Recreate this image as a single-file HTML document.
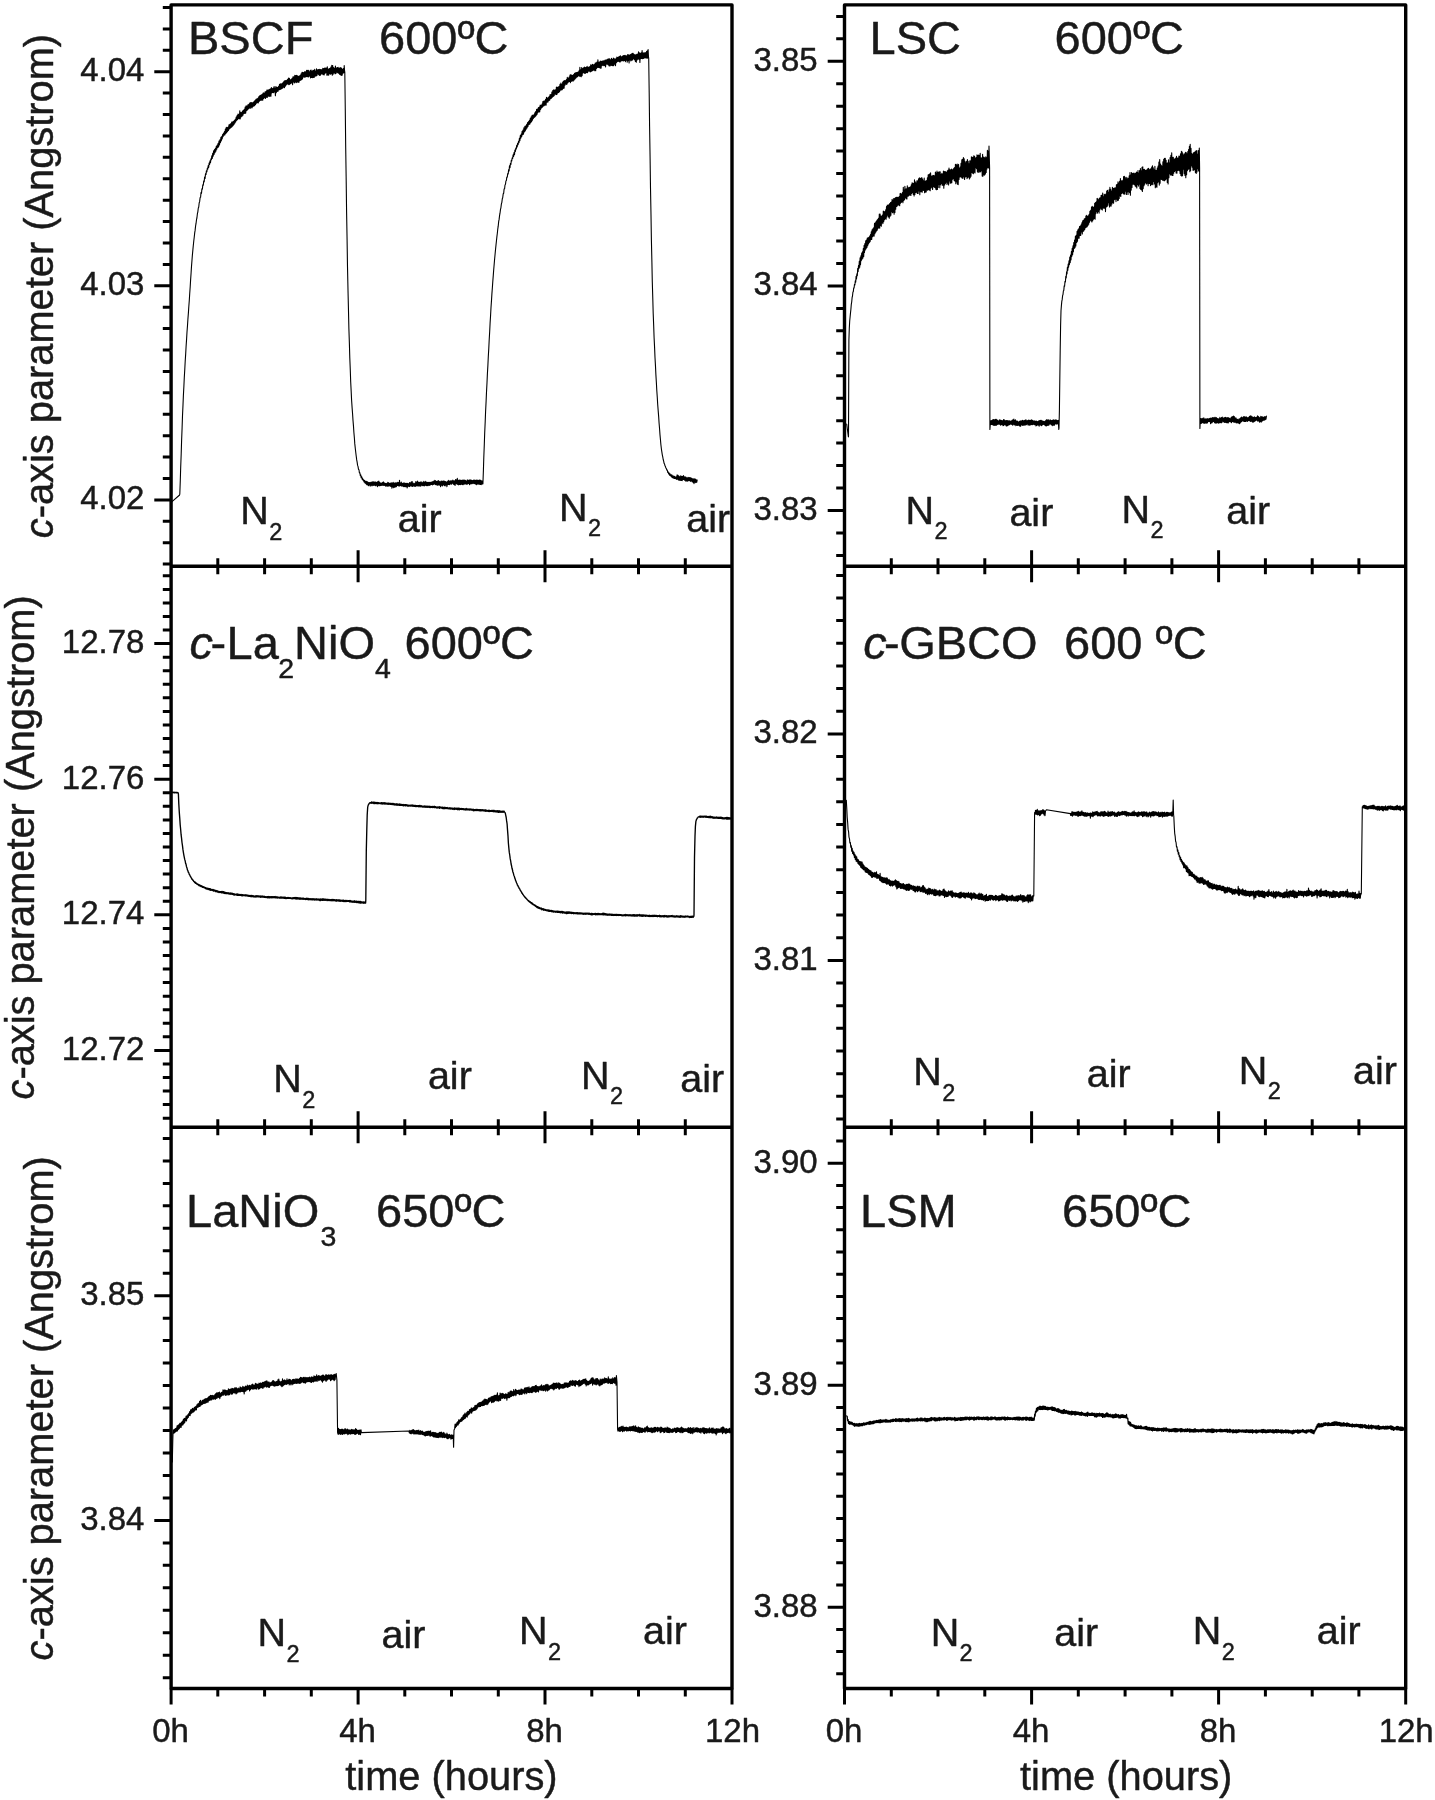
<!DOCTYPE html>
<html lang="en"><head><meta charset="utf-8"><title>c-axis parameter vs time</title>
<style>html,body{margin:0;padding:0;background:#fff}svg{display:block;filter:blur(0.7px)}text{white-space:pre}</style>
</head><body><svg width="1435" height="1800" viewBox="0 0 1435 1800"><rect x="0" y="0" width="1435" height="1800" fill="#fff"/>
<rect x="171.1" y="4.9" width="560.9" height="1683.6" fill="none" stroke="#000" stroke-width="3.4" stroke-linejoin="round"/>
<line x1="171.1" y1="566.3" x2="732.0" y2="566.3" stroke="#000" stroke-width="3.4"/>
<line x1="171.1" y1="1127.2" x2="732.0" y2="1127.2" stroke="#000" stroke-width="3.4"/>
<rect x="844.5" y="4.9" width="561.2" height="1683.6" fill="none" stroke="#000" stroke-width="3.4" stroke-linejoin="round"/>
<line x1="844.5" y1="566.3" x2="1405.7" y2="566.3" stroke="#000" stroke-width="3.4"/>
<line x1="844.5" y1="1127.2" x2="1405.7" y2="1127.2" stroke="#000" stroke-width="3.4"/>
<path d="M171.1,1688.5V1704.5M217.8,558.3V574.3M217.8,1119.2V1135.2M217.8,1688.5V1696.5M264.6,558.3V574.3M264.6,1119.2V1135.2M264.6,1688.5V1696.5M311.3,558.3V574.3M311.3,1119.2V1135.2M311.3,1688.5V1696.5M358.1,550.3V582.3M358.1,1111.2V1143.2M358.1,1688.5V1704.5M404.8,558.3V574.3M404.8,1119.2V1135.2M404.8,1688.5V1696.5M451.5,558.3V574.3M451.5,1119.2V1135.2M451.5,1688.5V1696.5M498.3,558.3V574.3M498.3,1119.2V1135.2M498.3,1688.5V1696.5M545.0,550.3V582.3M545.0,1111.2V1143.2M545.0,1688.5V1704.5M591.8,558.3V574.3M591.8,1119.2V1135.2M591.8,1688.5V1696.5M638.5,558.3V574.3M638.5,1119.2V1135.2M638.5,1688.5V1696.5M685.3,558.3V574.3M685.3,1119.2V1135.2M685.3,1688.5V1696.5M732.0,1688.5V1704.5M844.5,1688.5V1704.5M891.3,558.3V574.3M891.3,1119.2V1135.2M891.3,1688.5V1696.5M938.0,558.3V574.3M938.0,1119.2V1135.2M938.0,1688.5V1696.5M984.8,558.3V574.3M984.8,1119.2V1135.2M984.8,1688.5V1696.5M1031.6,550.3V582.3M1031.6,1111.2V1143.2M1031.6,1688.5V1704.5M1078.3,558.3V574.3M1078.3,1119.2V1135.2M1078.3,1688.5V1696.5M1125.1,558.3V574.3M1125.1,1119.2V1135.2M1125.1,1688.5V1696.5M1171.9,558.3V574.3M1171.9,1119.2V1135.2M1171.9,1688.5V1696.5M1218.6,550.3V582.3M1218.6,1111.2V1143.2M1218.6,1688.5V1704.5M1265.4,558.3V574.3M1265.4,1119.2V1135.2M1265.4,1688.5V1696.5M1312.2,558.3V574.3M1312.2,1119.2V1135.2M1312.2,1688.5V1696.5M1358.9,558.3V574.3M1358.9,1119.2V1135.2M1358.9,1688.5V1696.5M1405.7,1688.5V1704.5M162.8,7.5H171.1M162.8,28.9H171.1M162.8,50.3H171.1M154.3,71.7H171.1M162.8,93.1H171.1M162.8,114.5H171.1M162.8,135.9H171.1M162.8,157.3H171.1M162.8,178.8H171.1M162.8,200.2H171.1M162.8,221.6H171.1M162.8,243.0H171.1M162.8,264.4H171.1M154.3,285.8H171.1M162.8,307.2H171.1M162.8,328.6H171.1M162.8,350.0H171.1M162.8,371.4H171.1M162.8,392.8H171.1M162.8,414.3H171.1M162.8,435.7H171.1M162.8,457.1H171.1M162.8,478.5H171.1M154.3,499.9H171.1M162.8,521.3H171.1M162.8,542.7H171.1M162.8,564.1H171.1M836.2,16.4H844.5M836.2,38.8H844.5M827.7,61.3H844.5M836.2,83.8H844.5M836.2,106.2H844.5M836.2,128.7H844.5M836.2,151.1H844.5M836.2,173.6H844.5M836.2,196.1H844.5M836.2,218.5H844.5M836.2,241.0H844.5M836.2,263.4H844.5M827.7,285.9H844.5M836.2,308.4H844.5M836.2,330.8H844.5M836.2,353.3H844.5M836.2,375.7H844.5M836.2,398.2H844.5M836.2,420.7H844.5M836.2,443.1H844.5M836.2,465.6H844.5M836.2,488.0H844.5M827.7,510.5H844.5M836.2,533.0H844.5M836.2,555.4H844.5M162.8,575.8H171.1M162.8,589.4H171.1M162.8,602.9H171.1M162.8,616.5H171.1M162.8,630.0H171.1M154.3,643.6H171.1M162.8,657.2H171.1M162.8,670.7H171.1M162.8,684.3H171.1M162.8,697.8H171.1M162.8,711.4H171.1M162.8,725.0H171.1M162.8,738.5H171.1M162.8,752.1H171.1M162.8,765.6H171.1M154.3,779.2H171.1M162.8,792.8H171.1M162.8,806.3H171.1M162.8,819.9H171.1M162.8,833.4H171.1M162.8,847.0H171.1M162.8,860.6H171.1M162.8,874.1H171.1M162.8,887.7H171.1M162.8,901.2H171.1M154.3,914.8H171.1M162.8,928.4H171.1M162.8,941.9H171.1M162.8,955.5H171.1M162.8,969.0H171.1M162.8,982.6H171.1M162.8,996.2H171.1M162.8,1009.7H171.1M162.8,1023.3H171.1M162.8,1036.8H171.1M154.3,1050.4H171.1M162.8,1064.0H171.1M162.8,1077.5H171.1M162.8,1091.1H171.1M162.8,1104.6H171.1M162.8,1118.2H171.1M836.2,575.4H844.5M836.2,598.0H844.5M836.2,620.6H844.5M836.2,643.3H844.5M836.2,666.0H844.5M836.2,688.6H844.5M836.2,711.2H844.5M827.7,733.9H844.5M836.2,756.5H844.5M836.2,779.2H844.5M836.2,801.8H844.5M836.2,824.5H844.5M836.2,847.1H844.5M836.2,869.8H844.5M836.2,892.4H844.5M836.2,915.1H844.5M836.2,937.8H844.5M827.7,960.4H844.5M836.2,983.0H844.5M836.2,1005.7H844.5M836.2,1028.3H844.5M836.2,1051.0H844.5M836.2,1073.7H844.5M836.2,1096.3H844.5M836.2,1118.9H844.5M162.8,1138.4H171.1M162.8,1160.9H171.1M162.8,1183.4H171.1M162.8,1205.8H171.1M162.8,1228.3H171.1M162.8,1250.8H171.1M162.8,1273.2H171.1M154.3,1295.7H171.1M162.8,1318.2H171.1M162.8,1340.6H171.1M162.8,1363.1H171.1M162.8,1385.6H171.1M162.8,1408.0H171.1M162.8,1430.5H171.1M162.8,1453.0H171.1M162.8,1475.5H171.1M162.8,1497.9H171.1M154.3,1520.4H171.1M162.8,1542.9H171.1M162.8,1565.3H171.1M162.8,1587.8H171.1M162.8,1610.3H171.1M162.8,1632.8H171.1M162.8,1655.2H171.1M162.8,1677.7H171.1M836.2,1141.0H844.5M827.7,1163.2H844.5M836.2,1185.4H844.5M836.2,1207.6H844.5M836.2,1229.8H844.5M836.2,1252.0H844.5M836.2,1274.2H844.5M836.2,1296.4H844.5M836.2,1318.6H844.5M836.2,1340.8H844.5M836.2,1363.0H844.5M827.7,1385.2H844.5M836.2,1407.4H844.5M836.2,1429.6H844.5M836.2,1451.8H844.5M836.2,1474.0H844.5M836.2,1496.2H844.5M836.2,1518.4H844.5M836.2,1540.6H844.5M836.2,1562.8H844.5M836.2,1585.0H844.5M827.7,1607.2H844.5M836.2,1629.4H844.5M836.2,1651.6H844.5M836.2,1673.8H844.5" fill="none" stroke="#000" stroke-width="3.0"/>
<g font-family='"Liberation Sans", Arial, Helvetica, sans-serif' fill="#1a1a1a" stroke="#1a1a1a" stroke-width="0.45" stroke-linejoin="round">
<text x="144.4" y="81.1" font-size="33" text-anchor="end" >4.04</text>
<text x="144.4" y="295.2" font-size="33" text-anchor="end" >4.03</text>
<text x="144.4" y="509.3" font-size="33" text-anchor="end" >4.02</text>
<text x="817.7" y="70.7" font-size="33" text-anchor="end" >3.85</text>
<text x="817.7" y="295.3" font-size="33" text-anchor="end" >3.84</text>
<text x="817.7" y="519.9" font-size="33" text-anchor="end" >3.83</text>
<text x="144.4" y="653.0" font-size="33" text-anchor="end" >12.78</text>
<text x="144.4" y="788.6" font-size="33" text-anchor="end" >12.76</text>
<text x="144.4" y="924.2" font-size="33" text-anchor="end" >12.74</text>
<text x="144.4" y="1059.8" font-size="33" text-anchor="end" >12.72</text>
<text x="817.7" y="743.3" font-size="33" text-anchor="end" >3.82</text>
<text x="817.7" y="969.8" font-size="33" text-anchor="end" >3.81</text>
<text x="144.4" y="1305.1" font-size="33" text-anchor="end" >3.85</text>
<text x="144.4" y="1529.8" font-size="33" text-anchor="end" >3.84</text>
<text x="817.7" y="1172.6" font-size="33" text-anchor="end" >3.90</text>
<text x="817.7" y="1394.6" font-size="33" text-anchor="end" >3.89</text>
<text x="817.7" y="1616.6" font-size="33" text-anchor="end" >3.88</text>
<text x="170.6" y="1741.5" font-size="33" text-anchor="middle" >0h</text>
<text x="357.6" y="1741.5" font-size="33" text-anchor="middle" >4h</text>
<text x="544.5" y="1741.5" font-size="33" text-anchor="middle" >8h</text>
<text x="732.5" y="1741.5" font-size="33" text-anchor="middle" >12h</text>
<text x="844.0" y="1741.5" font-size="33" text-anchor="middle" >0h</text>
<text x="1031.1" y="1741.5" font-size="33" text-anchor="middle" >4h</text>
<text x="1218.1" y="1741.5" font-size="33" text-anchor="middle" >8h</text>
<text x="1406.2" y="1741.5" font-size="33" text-anchor="middle" >12h</text>
<text x="345.3" y="1790.0" font-size="39.8" text-anchor="start" >time (hours)</text>
<text x="1020.0" y="1790.0" font-size="39.8" text-anchor="start" >time (hours)</text>
<text transform="translate(52.7,538.2) rotate(-90)" font-size="39.8"><tspan font-style="italic">c</tspan>-axis parameter (Angstrom)</text>
<text transform="translate(33.6,1099.5) rotate(-90)" font-size="39.8"><tspan font-style="italic">c</tspan>-axis parameter (Angstrom)</text>
<text transform="translate(52.9,1660.4) rotate(-90)" font-size="39.8"><tspan font-style="italic">c</tspan>-axis parameter (Angstrom)</text>
<text x="188.0" y="54" font-size="47" text-anchor="start" >BSCF</text>
<text x="379.0" y="54" font-size="47" text-anchor="start" >600ºC</text>
<text x="869.5" y="54" font-size="47" text-anchor="start" >LSC</text>
<text x="1054.5" y="54" font-size="47" text-anchor="start" >600ºC</text>
<text x="189.5" y="659.4" font-size="47" font-style="italic">c</text>
<text x="210.5" y="659.4" font-size="47" text-anchor="start" >-</text>
<text x="226.6" y="659.4" font-size="47" text-anchor="start" >La</text>
<text transform="translate(278.2,678.1) scale(1.0,1)" font-size="28.5">2</text>
<text x="294.0" y="659.4" font-size="47" text-anchor="start" >NiO</text>
<text transform="translate(375.0,678.1) scale(1.0,1)" font-size="28.5">4</text>
<text x="404.5" y="659.4" font-size="47" text-anchor="start" >600ºC</text>
<text x="863.3" y="658.6" font-size="47" font-style="italic">c</text>
<text x="884.0" y="658.6" font-size="47" text-anchor="start" >-</text>
<text x="899.2" y="658.6" font-size="47" text-anchor="start" >GBCO</text>
<text x="1064.0" y="658.6" font-size="47" text-anchor="start" >600 ºC</text>
<text x="186.0" y="1227.3" font-size="47" text-anchor="start" >LaNiO</text>
<text transform="translate(320.4,1246.4) scale(1.0,1)" font-size="28.5">3</text>
<text x="376.0" y="1227.3" font-size="47" text-anchor="start" >650ºC</text>
<text x="860.0" y="1227.3" font-size="47" text-anchor="start" >LSM</text>
<text x="1062.0" y="1227.3" font-size="47" text-anchor="start" >650ºC</text>
<text x="240.3" y="524.3" font-size="39.5" text-anchor="start" >N</text>
<text transform="translate(269.2,540.1) scale(1.0,1)" font-size="23.5">2</text>
<text x="397.7" y="532.1" font-size="39.5" text-anchor="start" >air</text>
<text x="559.0" y="520.6" font-size="39.5" text-anchor="start" >N</text>
<text transform="translate(587.9,536.4) scale(1.0,1)" font-size="23.5">2</text>
<text x="686.3" y="532.1" font-size="39.5" text-anchor="start" >air</text>
<text x="905.6" y="523.6" font-size="39.5" text-anchor="start" >N</text>
<text transform="translate(934.5,539.4) scale(1.0,1)" font-size="23.5">2</text>
<text x="1009.4" y="525.7" font-size="39.5" text-anchor="start" >air</text>
<text x="1121.6" y="522.5" font-size="39.5" text-anchor="start" >N</text>
<text transform="translate(1150.5,538.3) scale(1.0,1)" font-size="23.5">2</text>
<text x="1226.2" y="523.6" font-size="39.5" text-anchor="start" >air</text>
<text x="273.3" y="1092.0" font-size="39.5" text-anchor="start" >N</text>
<text transform="translate(302.2,1107.8) scale(1.0,1)" font-size="23.5">2</text>
<text x="427.9" y="1089.1" font-size="39.5" text-anchor="start" >air</text>
<text x="581.0" y="1088.5" font-size="39.5" text-anchor="start" >N</text>
<text transform="translate(609.9,1104.3) scale(1.0,1)" font-size="23.5">2</text>
<text x="680.2" y="1091.9" font-size="39.5" text-anchor="start" >air</text>
<text x="913.3" y="1084.9" font-size="39.5" text-anchor="start" >N</text>
<text transform="translate(942.2,1100.7) scale(1.0,1)" font-size="23.5">2</text>
<text x="1086.8" y="1087.1" font-size="39.5" text-anchor="start" >air</text>
<text x="1238.8" y="1083.5" font-size="39.5" text-anchor="start" >N</text>
<text transform="translate(1267.7,1099.3) scale(1.0,1)" font-size="23.5">2</text>
<text x="1353.1" y="1083.5" font-size="39.5" text-anchor="start" >air</text>
<text x="257.5" y="1646.2" font-size="39.5" text-anchor="start" >N</text>
<text transform="translate(286.4,1662.0) scale(1.0,1)" font-size="23.5">2</text>
<text x="381.5" y="1648.0" font-size="39.5" text-anchor="start" >air</text>
<text x="519.0" y="1644.3" font-size="39.5" text-anchor="start" >N</text>
<text transform="translate(547.9,1660.1) scale(1.0,1)" font-size="23.5">2</text>
<text x="643.0" y="1644.3" font-size="39.5" text-anchor="start" >air</text>
<text x="930.7" y="1645.6" font-size="39.5" text-anchor="start" >N</text>
<text transform="translate(959.6,1661.4) scale(1.0,1)" font-size="23.5">2</text>
<text x="1054.2" y="1646.4" font-size="39.5" text-anchor="start" >air</text>
<text x="1192.8" y="1644.3" font-size="39.5" text-anchor="start" >N</text>
<text transform="translate(1221.7,1660.1) scale(1.0,1)" font-size="23.5">2</text>
<text x="1316.7" y="1644.3" font-size="39.5" text-anchor="start" >air</text>
</g>
<path d="M172.0,501.6 L179.6,495.0 L179.8,494.0 L180.3,480.3 L180.7,467.0 L181.2,453.8 L181.6,440.6 L182.1,427.8 L182.5,415.8 L183.0,404.9 L183.4,395.2 L183.9,386.0 L184.3,377.3 L184.8,369.0 L185.2,361.2 L185.7,353.6 L186.1,346.2 L186.6,338.9 L187.0,332.0 L187.5,325.5 L187.9,319.2 L188.4,312.9 L188.8,306.8 L189.3,300.3 L189.7,293.8 L190.2,286.7 L190.6,279.9 L191.1,272.7 L191.5,266.4 L192.0,260.0 L192.4,254.9 L192.9,249.6 L193.3,245.5 L193.8,240.7 L194.2,237.5 L194.7,232.9 L195.1,230.4 L195.6,225.9 L196.0,223.7 L196.5,219.7 L196.9,218.0 L197.4,213.7 L197.8,212.1 L198.3,208.0 L198.7,207.2 L199.2,202.7 L199.6,201.9 L200.1,197.7 L200.6,197.2 L201.0,192.6 L201.5,193.3 L201.9,188.9 L202.4,189.1 L202.8,184.9 L203.3,185.2 L203.7,181.0 L204.2,181.8 L204.6,177.1 L205.1,178.5 L205.5,173.7 L206.0,174.6 L206.4,170.9 L206.9,171.8 L207.3,168.3 L207.8,169.1 L208.2,165.6 L208.7,167.5 L209.1,163.0 L209.6,164.4 L210.0,160.9 L210.5,162.6 L210.9,158.7 L211.4,159.8 L211.8,155.9 L212.3,158.5 L212.7,153.4 L213.2,156.3 L213.6,150.8 L214.1,154.5 L214.5,149.5 L215.0,152.6 L215.4,148.3 L215.9,151.1 L216.3,146.3 L216.8,149.2 L217.2,145.1 L217.7,147.4 L218.1,143.3 L218.6,147.0 L219.0,141.0 L219.5,144.9 L219.9,139.7 L220.4,142.7 L220.9,137.3 L221.3,141.0 L221.8,136.4 L222.2,138.9 L222.7,134.2 L223.1,136.8 L223.6,133.0 L224.0,135.2 L224.5,131.5 L224.9,135.0 L225.4,129.1 L225.8,133.4 L226.3,127.2 L226.7,132.6 L227.2,127.5 L227.6,131.5 L228.1,127.1 L228.5,130.5 L229.0,124.7 L229.4,129.0 L229.9,124.3 L230.3,128.2 L230.8,123.6 L231.2,127.4 L231.7,122.0 L232.1,126.8 L232.6,121.8 L233.0,125.6 L233.5,121.3 L233.9,124.6 L234.4,120.4 L234.8,123.2 L235.3,119.3 L235.7,121.9 L236.2,117.0 L236.6,120.4 L237.1,115.6 L237.5,119.6 L238.0,114.0 L238.4,118.8 L238.9,114.4 L239.3,118.7 L239.8,110.9 L240.2,118.9 L240.7,112.5 L241.1,116.9 L241.6,112.4 L242.1,116.1 L242.5,111.0 L243.0,115.2 L243.4,110.2 L243.9,113.5 L244.3,109.3 L244.8,113.5 L245.2,107.0 L245.7,113.1 L246.1,105.7 L246.6,110.8 L247.0,106.1 L247.5,109.9 L247.9,104.9 L248.4,109.0 L248.8,104.3 L249.3,107.9 L249.7,103.1 L250.2,108.5 L250.6,102.5 L251.1,107.2 L251.5,102.5 L252.0,108.0 L252.4,102.9 L252.9,106.8 L253.3,102.4 L253.8,105.9 L254.2,101.2 L254.7,105.8 L255.1,100.3 L255.6,104.4 L256.0,99.2 L256.5,103.3 L256.9,98.7 L257.4,102.7 L257.8,98.2 L258.3,102.9 L258.7,96.7 L259.2,101.5 L259.6,95.9 L260.1,100.5 L260.5,95.3 L261.0,100.2 L261.4,94.7 L261.9,100.2 L262.4,94.1 L262.8,100.3 L263.3,92.7 L263.7,98.5 L264.2,93.2 L264.6,97.7 L265.1,91.7 L265.5,98.5 L266.0,91.5 L266.4,97.3 L266.9,90.0 L267.3,97.5 L267.8,90.0 L268.2,96.0 L268.7,89.9 L269.1,96.4 L269.6,89.4 L270.0,96.3 L270.5,88.9 L270.9,96.1 L271.4,87.6 L271.8,92.9 L272.3,88.5 L272.7,92.4 L273.2,88.0 L273.6,92.6 L274.1,86.5 L274.5,91.9 L275.0,88.1 L275.4,95.6 L275.9,86.6 L276.3,92.8 L276.8,87.2 L277.2,91.4 L277.7,87.2 L278.1,91.1 L278.6,86.2 L279.0,89.8 L279.5,84.2 L279.9,89.8 L280.4,83.8 L280.8,89.1 L281.3,83.9 L281.7,88.6 L282.2,83.6 L282.7,88.1 L283.1,82.4 L283.6,87.3 L284.0,81.2 L284.5,87.8 L284.9,80.5 L285.4,86.3 L285.8,80.5 L286.3,85.0 L286.7,80.3 L287.2,84.0 L287.6,79.2 L288.1,84.2 L288.5,78.0 L289.0,84.6 L289.4,78.3 L289.9,84.2 L290.3,79.7 L290.8,83.5 L291.2,79.4 L291.7,83.0 L292.1,78.3 L292.6,84.6 L293.0,76.7 L293.5,82.0 L293.9,76.9 L294.4,82.9 L294.8,75.3 L295.3,81.9 L295.7,75.5 L296.2,82.6 L296.6,75.2 L297.1,82.1 L297.5,75.8 L298.0,82.0 L298.4,76.2 L298.9,82.5 L299.3,76.1 L299.8,80.7 L300.2,75.4 L300.7,80.3 L301.1,73.8 L301.6,79.7 L302.0,72.4 L302.5,79.0 L302.9,72.2 L303.4,77.0 L303.9,72.6 L304.3,77.3 L304.8,71.5 L305.2,77.1 L305.7,71.7 L306.1,76.4 L306.6,70.2 L307.0,76.6 L307.5,70.2 L307.9,76.8 L308.4,70.2 L308.8,76.9 L309.3,71.7 L309.7,75.9 L310.2,70.4 L310.6,77.9 L311.1,70.0 L311.5,77.5 L312.0,71.2 L312.4,77.7 L312.9,70.4 L313.3,77.4 L313.8,70.4 L314.2,77.5 L314.7,69.2 L315.1,76.1 L315.6,71.1 L316.0,75.9 L316.5,68.9 L316.9,75.8 L317.4,69.9 L317.8,74.0 L318.3,69.5 L318.7,74.7 L319.2,69.2 L319.6,75.4 L320.1,69.6 L320.5,75.1 L321.0,69.6 L321.4,74.0 L321.9,69.8 L322.3,74.0 L322.8,68.3 L323.2,74.7 L323.7,68.5 L324.2,75.0 L324.6,68.0 L325.1,73.5 L325.5,68.0 L326.0,72.5 L326.4,68.0 L326.9,75.2 L327.3,66.9 L327.8,75.0 L328.2,69.2 L328.7,75.3 L329.1,68.6 L329.6,73.6 L330.0,68.3 L330.5,74.1 L330.9,67.1 L331.4,73.6 L331.8,65.4 L332.3,75.3 L332.7,65.6 L333.2,74.1 L333.6,67.5 L334.1,72.7 L334.5,68.3 L335.0,73.6 L335.4,66.1 L335.9,73.7 L336.3,68.1 L336.8,72.3 L337.2,67.6 L337.7,72.7 L338.1,67.2 L338.6,73.1 L339.0,68.2 L339.5,74.1 L339.9,67.9 L340.4,74.7 L340.8,67.5 L341.3,75.4 L341.7,68.2 L342.2,75.1 L342.6,69.2 L343.1,73.2 L343.5,68.6 L344.0,72.6 L344.2,65.5 L344.6,71.0 L344.8,72.0 L345.3,111.2 L345.7,147.6 L346.2,181.3 L346.6,212.4 L347.1,240.8 L347.5,266.8 L348.0,290.3 L348.5,311.2 L348.9,328.9 L349.4,344.1 L349.8,357.9 L350.3,370.6 L350.7,382.0 L351.2,391.9 L351.6,400.3 L352.1,407.6 L352.6,414.2 L353.0,420.4 L353.5,426.4 L353.9,432.5 L354.4,438.3 L354.8,443.9 L355.3,448.5 L355.8,452.8 L356.2,456.0 L356.7,459.9 L357.1,461.9 L357.6,465.4 L358.0,466.4 L358.5,469.4 L359.0,469.8 L359.4,472.9 L359.9,472.7 L360.3,475.8 L360.8,474.9 L361.2,477.8 L361.7,476.7 L362.2,479.5 L362.6,478.3 L363.1,480.5 L363.5,479.8 L364.0,482.0 L364.4,480.4 L364.9,483.0 L365.3,481.1 L365.8,483.6 L366.3,481.4 L366.7,484.7 L367.2,481.6 L367.6,484.9 L368.1,482.3 L368.5,485.8 L369.0,482.5 L369.3,485.0 L369.8,482.5 L370.2,486.1 L370.7,482.2 L371.1,485.1 L371.6,482.0 L372.0,485.9 L372.5,481.9 L372.9,485.1 L373.4,481.7 L373.8,485.4 L374.3,482.1 L374.7,485.3 L375.2,481.8 L375.6,485.8 L376.1,482.5 L376.5,485.3 L377.0,482.1 L377.4,486.8 L377.9,481.6 L378.3,485.7 L378.8,481.1 L379.2,485.8 L379.7,482.3 L380.1,485.7 L380.6,483.1 L381.0,485.5 L381.5,483.1 L381.9,485.5 L382.4,482.6 L382.8,485.3 L383.3,481.9 L383.7,485.4 L384.2,482.7 L384.6,485.4 L385.1,483.2 L385.6,486.1 L386.0,483.5 L386.5,485.9 L386.9,483.4 L387.4,486.3 L387.8,482.3 L388.3,486.2 L388.7,482.8 L389.2,485.6 L389.6,483.3 L390.1,486.1 L390.5,483.1 L391.0,486.4 L391.4,482.8 L391.9,488.2 L392.3,483.1 L392.8,486.9 L393.2,482.4 L393.7,487.7 L394.1,483.2 L394.6,487.3 L395.0,482.9 L395.5,487.0 L395.9,482.9 L396.4,486.6 L396.8,482.9 L397.3,485.4 L397.7,482.3 L398.2,485.8 L398.6,482.5 L399.1,486.1 L399.5,480.4 L400.0,485.7 L400.4,483.0 L400.9,485.6 L401.3,482.1 L401.8,486.3 L402.3,483.4 L402.7,485.9 L403.2,483.1 L403.6,486.8 L404.1,482.8 L404.5,486.7 L405.0,483.3 L405.4,486.8 L405.9,483.4 L406.3,486.7 L406.8,483.4 L407.2,487.9 L407.7,483.4 L408.1,486.3 L408.6,483.7 L409.0,486.5 L409.5,482.6 L409.9,486.6 L410.4,482.7 L410.8,485.4 L411.3,481.9 L411.7,486.2 L412.2,481.5 L412.6,486.4 L413.1,483.1 L413.5,486.0 L414.0,483.7 L414.4,486.3 L414.9,483.2 L415.3,486.4 L415.8,481.5 L416.2,485.9 L416.7,482.0 L417.1,485.7 L417.6,481.1 L418.1,486.2 L418.5,482.4 L419.0,485.6 L419.4,482.2 L419.9,486.1 L420.3,482.0 L420.8,486.1 L421.2,481.8 L421.7,485.3 L422.1,482.7 L422.6,485.6 L423.0,482.1 L423.5,485.6 L423.9,481.3 L424.4,486.0 L424.8,482.4 L425.3,485.1 L425.7,481.3 L426.2,485.8 L426.6,482.3 L427.1,485.7 L427.5,482.3 L428.0,485.6 L428.4,482.2 L428.9,485.2 L429.3,482.4 L429.8,485.5 L430.2,482.4 L430.7,484.7 L431.1,482.2 L431.6,484.5 L432.0,481.8 L432.5,485.0 L432.9,481.5 L433.4,484.5 L433.8,481.1 L434.3,484.0 L434.8,480.4 L435.2,484.4 L435.7,480.9 L436.1,484.9 L436.6,481.5 L437.0,484.7 L437.5,481.1 L437.9,485.4 L438.4,480.6 L438.8,484.8 L439.3,481.2 L439.7,485.1 L440.2,481.8 L440.6,486.8 L441.1,481.0 L441.5,485.2 L442.0,481.1 L442.4,485.9 L442.9,481.3 L443.3,484.7 L443.8,480.9 L444.2,485.4 L444.7,481.4 L445.1,486.0 L445.6,481.6 L446.0,485.0 L446.5,482.1 L446.9,486.6 L447.4,481.6 L447.8,484.7 L448.3,480.2 L448.7,484.5 L449.2,481.1 L449.6,484.7 L450.1,480.8 L450.6,483.9 L451.0,480.7 L451.5,484.3 L451.9,480.8 L452.4,483.3 L452.8,480.1 L453.3,484.1 L453.7,480.8 L454.2,484.8 L454.6,480.7 L455.1,485.4 L455.5,479.6 L456.0,483.7 L456.4,479.9 L456.9,483.9 L457.3,478.2 L457.8,484.5 L458.2,480.4 L458.7,484.9 L459.1,480.1 L459.6,484.5 L460.0,480.1 L460.5,484.7 L460.9,480.4 L461.4,484.3 L461.8,480.4 L462.3,484.6 L462.7,480.0 L463.2,484.6 L463.6,480.0 L464.1,484.0 L464.5,480.1 L465.0,484.2 L465.4,480.3 L465.9,483.6 L466.3,481.1 L466.8,484.5 L467.3,479.7 L467.7,483.9 L468.2,480.2 L468.6,483.5 L469.1,480.0 L469.5,484.8 L470.0,479.8 L470.4,484.0 L470.9,480.1 L471.3,483.8 L471.8,480.2 L472.2,483.7 L472.7,480.5 L473.1,483.1 L473.6,480.1 L474.0,483.7 L474.5,480.0 L474.9,483.7 L475.4,480.2 L475.8,484.3 L476.3,480.0 L476.7,484.6 L477.2,480.0 L477.6,483.9 L478.1,480.3 L478.5,484.1 L479.0,480.3 L479.4,484.3 L479.9,479.7 L480.3,484.4 L480.8,480.6 L481.2,484.6 L481.7,480.7 L482.1,484.0 L482.6,480.9 L482.9,484.0 L483.4,470.4 L483.8,457.2 L484.3,444.6 L484.7,432.7 L485.2,421.7 L485.6,411.3 L486.1,401.4 L486.5,391.9 L487.0,382.7 L487.4,373.8 L487.9,365.1 L488.3,356.5 L488.8,348.1 L489.2,339.7 L489.7,331.2 L490.1,323.0 L490.6,315.0 L491.0,307.5 L491.5,300.4 L491.9,293.9 L492.4,287.3 L492.8,281.4 L493.3,275.1 L493.7,269.7 L494.2,264.0 L494.6,259.2 L495.1,254.0 L495.5,249.8 L496.0,245.0 L496.4,241.3 L496.9,236.6 L497.3,233.5 L497.8,228.8 L498.2,226.2 L498.7,221.4 L499.1,219.4 L499.6,215.4 L500.0,213.2 L500.5,209.4 L500.9,207.8 L501.4,203.9 L501.8,202.6 L502.3,198.7 L502.7,197.7 L503.2,193.9 L503.7,193.1 L504.1,189.0 L504.6,188.7 L505.0,185.0 L505.5,184.3 L505.9,181.0 L506.4,180.4 L506.8,177.1 L507.3,177.2 L507.7,173.6 L508.2,173.9 L508.6,169.8 L509.1,170.9 L509.5,165.7 L510.0,167.6 L510.4,163.5 L510.9,164.5 L511.3,160.4 L511.8,160.8 L512.2,157.7 L512.7,158.4 L513.1,154.9 L513.6,156.5 L514.0,152.5 L514.5,154.8 L514.9,150.1 L515.4,151.4 L515.8,148.1 L516.3,149.0 L516.7,145.4 L517.2,147.0 L517.6,143.4 L518.1,144.7 L518.5,141.4 L519.0,142.7 L519.4,138.4 L519.9,140.8 L520.3,135.5 L520.8,138.1 L521.2,134.1 L521.7,136.7 L522.1,131.4 L522.6,134.7 L523.0,130.0 L523.5,134.1 L523.9,127.9 L524.4,132.0 L524.9,126.3 L525.3,131.0 L525.8,125.9 L526.2,129.2 L526.7,124.4 L527.1,128.0 L527.6,122.5 L528.0,126.5 L528.5,121.5 L528.9,124.5 L529.4,120.4 L529.8,124.1 L530.3,118.4 L530.7,122.6 L531.2,116.7 L531.6,121.8 L532.1,115.4 L532.5,120.2 L533.0,115.0 L533.4,118.4 L533.9,114.7 L534.3,117.4 L534.8,112.7 L535.2,116.6 L535.7,111.5 L536.1,115.7 L536.6,109.2 L537.0,114.5 L537.5,109.1 L537.9,112.8 L538.4,107.6 L538.8,111.7 L539.3,107.0 L539.7,112.0 L540.2,105.1 L540.6,109.5 L541.1,105.5 L541.5,108.0 L542.0,104.1 L542.4,107.1 L542.9,101.5 L543.3,106.3 L543.8,101.0 L544.2,105.8 L544.7,100.8 L545.2,104.9 L545.6,99.3 L546.1,105.3 L546.5,97.4 L547.0,102.2 L547.4,98.0 L547.9,102.2 L548.3,97.6 L548.8,100.6 L549.2,96.4 L549.7,100.1 L550.1,94.6 L550.6,98.7 L551.0,94.6 L551.5,98.2 L551.9,92.1 L552.4,97.1 L552.8,90.6 L553.3,96.4 L553.7,89.7 L554.2,95.7 L554.6,90.0 L555.1,93.9 L555.5,89.7 L556.0,94.6 L556.4,87.1 L556.9,94.4 L557.3,87.3 L557.8,92.9 L558.2,87.1 L558.7,92.5 L559.1,86.3 L559.6,91.7 L560.0,84.4 L560.5,90.3 L560.9,83.0 L561.4,90.0 L561.8,84.4 L562.3,89.6 L562.7,82.1 L563.2,88.4 L563.6,81.1 L564.1,88.1 L564.5,80.5 L565.0,85.3 L565.5,80.6 L565.9,84.0 L566.4,79.6 L566.8,84.4 L567.3,77.4 L567.7,83.0 L568.2,78.4 L568.6,82.0 L569.1,77.0 L569.5,81.5 L570.0,75.0 L570.4,82.6 L570.9,74.5 L571.3,81.5 L571.8,75.4 L572.2,80.6 L572.7,75.3 L573.1,81.1 L573.6,74.6 L574.0,80.1 L574.5,73.4 L574.9,79.3 L575.4,72.7 L575.8,78.1 L576.3,72.5 L576.7,77.1 L577.2,72.2 L577.6,76.7 L578.1,72.0 L578.5,75.8 L579.0,70.8 L579.4,76.1 L579.9,67.4 L580.3,76.3 L580.8,69.8 L581.2,76.8 L581.7,67.5 L582.1,75.7 L582.6,68.5 L583.0,73.0 L583.5,67.9 L583.9,72.8 L584.4,67.1 L584.8,73.4 L585.3,67.6 L585.7,73.3 L586.2,67.2 L586.7,72.5 L587.1,66.2 L587.6,72.8 L588.0,67.3 L588.5,71.1 L588.9,67.1 L589.4,71.1 L589.8,66.5 L590.3,71.9 L590.7,64.8 L591.2,71.4 L591.6,65.1 L592.1,71.0 L592.5,64.4 L593.0,70.5 L593.4,64.9 L593.9,69.9 L594.3,64.5 L594.8,70.8 L595.2,63.0 L595.7,70.6 L596.1,62.7 L596.6,68.5 L597.0,62.0 L597.5,67.5 L597.9,59.8 L598.4,67.5 L598.8,62.4 L599.3,67.5 L599.7,61.7 L600.2,68.1 L600.6,61.1 L601.1,68.1 L601.5,61.3 L602.0,65.8 L602.4,61.0 L602.9,65.1 L603.3,60.8 L603.8,65.6 L604.2,60.8 L604.7,65.6 L605.1,60.0 L605.6,67.0 L606.0,60.0 L606.5,64.3 L607.0,59.6 L607.4,64.2 L607.9,59.0 L608.3,65.0 L608.8,58.8 L609.2,65.9 L609.7,58.8 L610.1,66.0 L610.6,59.7 L611.0,65.1 L611.5,58.4 L611.9,65.4 L612.4,59.6 L612.8,65.6 L613.3,58.1 L613.7,65.6 L614.2,58.6 L614.6,64.3 L615.1,59.6 L615.5,65.8 L616.0,58.2 L616.4,62.8 L616.9,57.1 L617.3,61.7 L617.8,57.6 L618.2,61.3 L618.7,56.7 L619.1,61.5 L619.6,56.2 L620.0,62.1 L620.5,55.7 L620.9,61.2 L621.4,56.7 L621.8,60.7 L622.3,56.2 L622.7,60.7 L623.2,55.5 L623.6,60.9 L624.1,55.5 L624.5,60.5 L625.0,55.2 L625.4,61.7 L625.9,55.8 L626.3,60.1 L626.8,55.7 L627.2,62.3 L627.7,54.5 L628.2,60.8 L628.6,54.9 L629.1,62.9 L629.5,55.1 L630.0,59.9 L630.4,54.6 L630.9,60.9 L631.3,54.1 L631.8,60.3 L632.2,53.4 L632.7,60.0 L633.1,53.3 L633.6,58.6 L634.0,54.3 L634.5,59.6 L634.9,54.7 L635.4,61.4 L635.8,54.8 L636.3,62.1 L636.7,54.4 L637.2,59.9 L637.6,54.1 L638.1,58.9 L638.5,51.9 L639.0,59.3 L639.4,52.9 L639.9,62.5 L640.3,53.2 L640.8,58.6 L641.2,52.9 L641.7,58.4 L642.1,50.6 L642.6,58.7 L643.0,53.0 L643.5,58.4 L643.9,52.7 L644.4,58.0 L644.8,52.7 L645.3,57.9 L645.7,52.6 L646.2,57.6 L646.6,51.2 L647.1,58.4 L647.5,50.8 L648.0,57.7 L648.1,49.5 L648.5,57.0 L648.7,58.0 L649.2,93.4 L649.6,126.9 L650.1,158.4 L650.5,187.9 L651.0,215.1 L651.4,239.9 L651.9,262.3 L652.3,282.0 L652.8,299.0 L653.2,313.6 L653.7,326.3 L654.1,337.7 L654.6,347.9 L655.0,357.4 L655.5,366.4 L655.9,374.9 L656.4,383.0 L656.8,390.5 L657.3,397.7 L657.7,404.5 L658.2,410.9 L658.7,417.1 L659.1,423.2 L659.6,429.3 L660.0,434.9 L660.5,440.3 L660.9,444.8 L661.4,449.0 L661.8,451.7 L662.3,454.8 L662.7,456.7 L663.2,459.5 L663.6,460.9 L664.1,463.4 L664.5,463.8 L665.0,465.9 L665.4,466.3 L665.9,468.1 L666.3,468.4 L666.8,470.2 L667.3,470.0 L667.7,472.4 L668.2,471.8 L668.6,474.0 L669.1,472.9 L669.5,475.2 L670.0,473.8 L670.4,475.8 L670.9,474.8 L671.3,476.6 L671.8,474.9 L672.2,477.7 L672.7,475.8 L673.1,477.9 L673.6,476.1 L674.0,478.5 L674.5,476.4 L674.9,478.5 L675.4,476.9 L675.8,478.8 L676.3,476.8 L676.6,479.5 L677.1,474.8 L677.5,479.3 L678.0,475.3 L678.4,480.0 L678.9,476.1 L679.3,480.3 L679.8,476.8 L680.3,480.5 L680.7,475.7 L681.2,480.4 L681.6,476.2 L682.1,480.6 L682.6,476.2 L683.0,479.8 L683.5,475.5 L683.9,479.5 L684.4,476.9 L684.8,480.4 L685.3,476.7 L685.8,481.3 L686.2,477.3 L686.7,480.9 L687.1,478.0 L687.6,481.2 L688.0,477.3 L688.5,480.7 L689.0,477.5 L689.4,480.4 L689.9,477.5 L690.3,481.5 L690.8,477.8 L691.2,481.0 L691.7,478.2 L692.2,481.8 L692.6,478.9 L693.1,482.5 L693.5,478.8 L694.0,483.6 L694.5,478.7 L694.9,482.1 L695.4,479.1 L695.8,482.6 L696.3,479.7 L696.7,482.3 L697.2,480.0" fill="none" stroke="#000" stroke-width="1.1" stroke-linejoin="round" stroke-linecap="round"/>
<path d="M846.7,424.0 L847.6,431.0 L848.4,437.0 L848.5,436.0 L848.9,340.0 L849.3,328.2 L849.7,321.0 L850.1,317.0 L850.5,312.9 L850.9,309.2 L851.3,304.3 L851.7,302.0 L852.1,297.7 L852.5,296.0 L852.9,292.2 L853.3,291.7 L853.7,287.8 L854.1,288.0 L854.5,284.2 L854.9,284.9 L855.3,280.7 L855.7,282.1 L856.1,276.4 L856.5,278.9 L856.9,273.7 L857.3,275.7 L857.7,268.5 L858.1,271.8 L858.5,265.6 L858.9,268.6 L859.3,261.2 L859.7,267.3 L860.1,257.7 L860.5,264.8 L860.9,255.8 L861.3,260.8 L861.7,253.0 L862.1,259.3 L862.5,251.7 L862.9,258.1 L863.3,248.6 L863.7,256.4 L864.1,245.4 L864.5,252.4 L864.9,243.5 L865.3,250.0 L865.7,240.8 L866.1,248.8 L866.5,240.0 L866.9,247.4 L867.3,238.0 L867.7,245.8 L868.1,237.8 L868.5,244.0 L868.9,237.4 L869.3,242.7 L869.7,236.1 L870.1,241.6 L870.5,234.6 L870.9,239.6 L871.3,231.9 L871.7,239.4 L872.1,229.7 L872.5,236.8 L872.9,228.7 L873.3,236.0 L873.7,227.9 L874.1,236.1 L874.5,223.4 L874.9,233.8 L875.3,222.8 L875.7,232.3 L876.1,221.6 L876.5,231.0 L876.9,220.4 L877.3,230.1 L877.7,219.4 L878.1,228.4 L878.5,218.4 L878.9,227.4 L879.3,214.1 L879.7,228.2 L880.1,214.1 L880.5,225.5 L880.9,216.1 L881.3,226.2 L881.7,216.0 L882.1,222.6 L882.5,215.0 L882.9,223.6 L883.3,211.1 L883.7,221.8 L884.1,211.6 L884.5,219.7 L884.9,211.8 L885.3,218.8 L885.7,209.9 L886.1,219.2 L886.5,206.6 L886.9,216.9 L887.3,205.0 L887.7,215.2 L888.1,205.5 L888.5,216.9 L888.9,204.5 L889.3,218.3 L889.7,203.5 L890.1,216.3 L890.5,202.6 L890.9,215.2 L891.3,202.0 L891.7,211.6 L892.1,199.4 L892.5,212.7 L892.9,200.4 L893.3,212.1 L893.7,198.5 L894.1,214.3 L894.5,198.6 L894.9,212.5 L895.3,197.9 L895.7,209.3 L896.1,197.4 L896.5,206.5 L896.9,197.3 L897.3,205.9 L897.7,197.4 L898.1,204.8 L898.5,197.4 L898.9,205.1 L899.3,196.5 L899.7,205.8 L900.1,193.5 L900.5,203.2 L900.9,193.4 L901.3,202.5 L901.7,194.4 L902.1,201.5 L902.5,192.6 L902.9,202.8 L903.3,187.3 L903.7,200.6 L904.1,190.0 L904.5,199.8 L904.9,186.2 L905.3,197.8 L905.7,189.1 L906.1,198.8 L906.5,188.7 L906.9,199.0 L907.3,185.8 L907.7,196.1 L908.1,188.0 L908.5,196.0 L908.9,187.2 L909.3,195.1 L909.7,187.3 L910.1,194.9 L910.5,186.9 L910.9,195.4 L911.3,184.7 L911.7,193.4 L912.1,182.7 L912.5,192.4 L912.9,183.3 L913.3,194.4 L913.7,183.2 L914.1,195.9 L914.5,179.9 L914.9,194.4 L915.3,181.9 L915.7,192.4 L916.1,183.1 L916.5,192.2 L916.9,180.7 L917.3,193.5 L917.7,180.9 L918.1,193.5 L918.5,178.8 L919.0,190.9 L919.4,177.7 L919.8,194.8 L920.2,178.4 L920.6,191.6 L921.0,178.3 L921.4,191.8 L921.8,177.6 L922.2,192.3 L922.6,179.1 L923.0,190.1 L923.4,180.7 L923.8,190.5 L924.2,178.0 L924.6,192.7 L925.0,181.5 L925.4,192.1 L925.8,180.7 L926.2,192.0 L926.6,180.5 L927.0,190.0 L927.4,177.8 L927.8,190.3 L928.2,174.8 L928.6,189.4 L929.0,174.5 L929.4,189.9 L929.8,173.9 L930.2,190.7 L930.6,172.9 L931.0,188.1 L931.4,176.0 L931.8,187.2 L932.2,176.0 L932.6,189.4 L933.0,175.2 L933.4,186.5 L933.8,175.6 L934.2,187.2 L934.6,175.8 L935.0,187.4 L935.4,172.1 L935.8,189.2 L936.2,173.1 L936.6,189.8 L937.0,171.1 L937.4,189.4 L937.8,172.6 L938.2,187.5 L938.6,172.0 L939.0,184.4 L939.4,171.8 L939.8,187.8 L940.2,171.8 L940.6,184.8 L941.0,174.5 L941.4,183.4 L941.8,173.4 L942.2,185.2 L942.6,174.0 L943.0,185.2 L943.4,171.1 L943.8,188.2 L944.2,171.6 L944.6,185.0 L945.0,171.5 L945.4,183.6 L945.8,171.9 L946.2,182.3 L946.6,172.2 L947.0,184.4 L947.4,170.8 L947.8,183.2 L948.2,170.1 L948.6,185.0 L949.0,168.0 L949.4,181.0 L949.8,169.8 L950.2,183.3 L950.6,169.7 L951.0,183.0 L951.4,169.1 L951.8,182.7 L952.2,170.0 L952.6,179.3 L953.0,169.2 L953.4,178.7 L953.8,168.3 L954.2,180.5 L954.6,167.6 L955.0,181.3 L955.4,164.4 L955.8,183.7 L956.2,164.3 L956.6,181.9 L957.0,165.4 L957.4,184.1 L957.8,164.1 L958.2,184.6 L958.6,164.6 L959.0,179.4 L959.4,168.2 L959.8,176.9 L960.2,167.0 L960.6,176.7 L961.0,163.4 L961.4,177.2 L961.8,159.9 L962.2,178.3 L962.6,159.3 L963.0,178.3 L963.4,157.6 L963.8,176.8 L964.2,158.8 L964.6,179.4 L965.0,161.3 L965.4,176.9 L965.8,162.7 L966.2,176.4 L966.6,161.3 L967.0,178.6 L967.4,159.6 L967.8,177.6 L968.2,161.4 L968.6,177.0 L969.0,163.9 L969.4,179.0 L969.8,160.9 L970.2,177.8 L970.6,160.7 L971.0,176.2 L971.4,156.8 L971.8,172.4 L972.2,157.2 L972.6,173.1 L973.0,157.3 L973.4,173.7 L973.8,155.8 L974.2,172.2 L974.6,156.2 L975.0,172.9 L975.4,158.1 L975.8,167.6 L976.2,157.5 L976.6,168.8 L977.0,154.9 L977.4,171.8 L977.8,155.5 L978.2,172.5 L978.6,155.1 L979.0,171.1 L979.4,155.3 L979.8,172.1 L980.2,153.4 L980.6,171.7 L981.0,158.0 L981.4,170.6 L981.8,157.8 L982.2,176.1 L982.6,154.3 L983.0,176.1 L983.4,157.1 L983.8,174.6 L984.2,157.4 L984.6,175.1 L985.0,158.1 L985.4,174.0 L985.8,156.8 L986.2,172.5 L986.6,157.9 L987.0,169.0 L987.4,150.2 L987.8,167.4 L988.2,151.4 L988.6,168.0 L989.0,146.0 L989.6,168.0 L989.9,429.5 L990.2,425.6 L990.6,420.9 L991.0,424.5 L991.4,420.5 L991.8,424.4 L992.2,420.4 L992.6,424.8 L993.0,419.5 L993.4,425.1 L993.8,419.6 L994.2,425.1 L994.6,419.9 L995.0,425.5 L995.4,419.2 L995.8,425.2 L996.2,419.2 L996.6,425.2 L997.0,419.7 L997.4,424.5 L997.8,420.6 L998.2,424.1 L998.6,421.1 L999.0,424.1 L999.4,419.8 L999.8,424.3 L1000.2,420.0 L1000.6,425.1 L1001.0,420.2 L1001.4,424.7 L1001.9,420.6 L1002.3,424.8 L1002.7,420.7 L1003.1,425.6 L1003.5,419.6 L1003.9,425.5 L1004.3,419.8 L1004.7,424.4 L1005.1,420.8 L1005.5,425.0 L1005.9,420.5 L1006.3,425.9 L1006.7,420.5 L1007.1,425.9 L1007.5,420.6 L1007.9,425.5 L1008.3,420.8 L1008.7,424.9 L1009.1,420.9 L1009.5,424.6 L1009.9,420.7 L1010.3,424.2 L1010.7,421.3 L1011.1,424.2 L1011.5,420.7 L1011.9,424.4 L1012.3,420.1 L1012.7,425.1 L1013.1,419.7 L1013.5,424.1 L1013.9,419.1 L1014.3,424.9 L1014.7,420.5 L1015.1,424.7 L1015.5,419.7 L1015.9,425.7 L1016.3,421.0 L1016.7,425.1 L1017.1,421.0 L1017.5,425.4 L1017.9,421.3 L1018.3,425.1 L1018.7,422.3 L1019.1,425.5 L1019.5,421.4 L1019.9,426.3 L1020.3,420.7 L1020.7,426.2 L1021.1,421.2 L1021.5,424.6 L1021.9,420.6 L1022.3,425.1 L1022.7,420.2 L1023.1,425.4 L1023.5,420.7 L1023.9,425.0 L1024.3,420.5 L1024.8,425.3 L1025.2,420.1 L1025.6,425.0 L1026.0,419.9 L1026.4,424.7 L1026.8,420.9 L1027.2,424.0 L1027.6,420.5 L1028.0,425.0 L1028.4,420.1 L1028.8,425.0 L1029.2,420.2 L1029.6,425.2 L1030.0,420.3 L1030.4,425.0 L1030.8,420.3 L1031.2,424.7 L1031.6,419.9 L1032.0,424.5 L1032.4,420.4 L1032.8,424.7 L1033.2,420.7 L1033.6,424.3 L1034.0,421.1 L1034.4,424.6 L1034.8,420.7 L1035.2,424.6 L1035.6,421.2 L1036.0,426.0 L1036.4,421.0 L1036.8,425.5 L1037.2,421.6 L1037.6,424.9 L1038.0,421.6 L1038.4,425.1 L1038.8,420.7 L1039.2,426.1 L1039.6,420.5 L1040.0,424.8 L1040.4,420.4 L1040.8,425.2 L1041.2,420.4 L1041.6,425.7 L1042.0,420.7 L1042.4,424.9 L1042.8,421.1 L1043.2,424.5 L1043.6,421.4 L1044.0,424.5 L1044.4,421.5 L1044.8,425.1 L1045.2,421.0 L1045.6,425.6 L1046.0,420.4 L1046.4,425.9 L1046.8,419.5 L1047.3,425.5 L1047.7,420.1 L1048.1,425.2 L1048.5,419.7 L1048.9,425.1 L1049.3,420.9 L1049.7,424.0 L1050.1,419.7 L1050.5,424.0 L1050.9,420.3 L1051.3,424.8 L1051.7,420.5 L1052.1,425.2 L1052.5,420.2 L1052.9,425.6 L1053.3,419.7 L1053.7,425.0 L1054.1,420.0 L1054.5,425.1 L1054.9,420.3 L1055.3,423.9 L1055.7,419.7 L1056.1,423.8 L1056.5,420.0 L1056.9,424.3 L1057.3,420.6 L1057.7,423.7 L1058.1,420.4 L1058.5,424.7 L1058.8,429.5 L1059.0,428.0 L1059.4,410.7 L1059.8,380.1 L1060.2,350.3 L1060.6,325.5 L1061.0,310.8 L1061.4,305.6 L1061.8,301.4 L1062.2,299.4 L1062.6,295.7 L1063.0,294.5 L1063.4,290.8 L1063.8,290.4 L1064.2,285.9 L1064.6,286.2 L1065.0,281.3 L1065.4,282.0 L1065.8,276.2 L1066.2,277.9 L1066.6,271.7 L1067.0,273.9 L1067.4,267.4 L1067.8,270.5 L1068.2,264.0 L1068.6,267.2 L1069.0,260.9 L1069.4,264.7 L1069.8,257.0 L1070.2,262.6 L1070.6,255.1 L1071.0,260.0 L1071.4,251.6 L1071.8,256.5 L1072.2,248.4 L1072.6,254.7 L1073.0,245.8 L1073.4,251.8 L1073.8,242.6 L1074.2,248.5 L1074.6,240.1 L1075.0,247.6 L1075.4,236.3 L1075.8,246.0 L1076.2,235.4 L1076.7,242.5 L1077.1,231.3 L1077.5,241.2 L1077.9,229.8 L1078.3,238.1 L1078.7,228.7 L1079.1,238.3 L1079.5,226.5 L1079.9,235.5 L1080.3,226.1 L1080.7,235.5 L1081.1,224.9 L1081.5,232.0 L1081.9,222.8 L1082.3,233.9 L1082.7,220.8 L1083.1,231.4 L1083.5,220.4 L1083.9,230.7 L1084.3,218.9 L1084.7,229.4 L1085.1,218.5 L1085.5,227.7 L1085.9,216.1 L1086.3,227.3 L1086.7,215.3 L1087.1,226.7 L1087.5,216.6 L1087.9,225.6 L1088.3,215.7 L1088.7,224.3 L1089.1,214.4 L1089.5,222.3 L1089.9,211.2 L1090.3,220.3 L1090.7,210.3 L1091.1,221.0 L1091.5,207.1 L1091.9,221.9 L1092.3,206.4 L1092.7,220.8 L1093.1,207.2 L1093.5,219.3 L1093.9,207.1 L1094.3,218.5 L1094.7,203.3 L1095.1,219.3 L1095.5,202.6 L1095.9,213.6 L1096.3,201.9 L1096.7,211.8 L1097.1,198.4 L1097.5,213.1 L1097.9,198.8 L1098.3,211.4 L1098.7,199.7 L1099.1,213.1 L1099.5,198.0 L1099.9,209.7 L1100.3,197.8 L1100.7,208.1 L1101.1,195.4 L1101.5,209.3 L1101.9,195.2 L1102.3,210.0 L1102.7,193.1 L1103.1,208.0 L1103.5,196.9 L1103.9,208.2 L1104.3,194.3 L1104.7,208.3 L1105.1,194.9 L1105.5,211.6 L1105.9,194.1 L1106.3,206.9 L1106.7,191.1 L1107.1,206.5 L1107.5,190.3 L1107.9,205.2 L1108.3,192.3 L1108.7,202.7 L1109.1,189.8 L1109.5,207.0 L1109.9,187.4 L1110.3,206.0 L1110.7,189.3 L1111.1,206.1 L1111.6,191.0 L1112.0,203.9 L1112.4,187.4 L1112.8,202.4 L1113.2,188.2 L1113.6,203.2 L1114.0,188.6 L1114.4,199.6 L1114.8,187.9 L1115.2,199.1 L1115.6,187.9 L1116.0,201.6 L1116.4,184.8 L1116.8,199.1 L1117.2,184.2 L1117.6,200.6 L1118.0,181.8 L1118.4,200.3 L1118.8,183.1 L1119.2,198.5 L1119.6,181.2 L1120.0,195.8 L1120.4,178.5 L1120.8,196.5 L1121.2,180.5 L1121.6,193.5 L1122.0,181.3 L1122.4,192.8 L1122.8,180.2 L1123.2,193.4 L1123.6,176.6 L1124.0,194.2 L1124.4,176.4 L1124.8,194.0 L1125.2,177.3 L1125.6,191.1 L1126.0,178.7 L1126.4,194.4 L1126.8,177.3 L1127.2,191.9 L1127.6,178.7 L1128.0,194.5 L1128.4,178.2 L1128.8,191.6 L1129.2,175.9 L1129.6,192.8 L1130.0,172.6 L1130.4,195.2 L1130.8,175.1 L1131.2,190.1 L1131.6,172.5 L1132.0,187.5 L1132.4,173.5 L1132.8,184.2 L1133.2,173.4 L1133.6,184.1 L1134.0,173.1 L1134.4,184.6 L1134.8,173.9 L1135.2,185.9 L1135.6,173.2 L1136.0,186.7 L1136.4,172.1 L1136.8,188.0 L1137.2,172.6 L1137.6,184.5 L1138.0,170.5 L1138.4,186.1 L1138.8,173.0 L1139.2,184.3 L1139.6,170.6 L1140.0,188.4 L1140.4,168.6 L1140.8,189.4 L1141.2,170.8 L1141.6,189.9 L1142.0,167.2 L1142.4,191.5 L1142.8,166.8 L1143.2,188.6 L1143.6,169.6 L1144.0,185.7 L1144.4,169.3 L1144.8,184.1 L1145.2,170.4 L1145.6,182.6 L1146.0,170.3 L1146.5,183.9 L1146.9,169.8 L1147.3,183.3 L1147.7,168.7 L1148.1,185.8 L1148.5,168.2 L1148.9,183.4 L1149.3,169.7 L1149.7,183.4 L1150.1,169.0 L1150.5,185.6 L1150.9,168.9 L1151.3,184.7 L1151.7,167.0 L1152.1,184.3 L1152.5,165.8 L1152.9,184.7 L1153.3,167.9 L1153.7,181.5 L1154.1,169.8 L1154.5,183.9 L1154.9,166.3 L1155.3,187.8 L1155.7,170.4 L1156.1,186.8 L1156.5,170.2 L1156.9,187.2 L1157.3,168.0 L1157.7,182.8 L1158.1,166.1 L1158.5,181.7 L1158.9,162.0 L1159.3,185.1 L1159.7,159.5 L1160.1,183.2 L1160.5,164.1 L1160.9,179.1 L1161.3,165.4 L1161.7,179.4 L1162.1,166.2 L1162.5,180.1 L1162.9,161.8 L1163.3,180.3 L1163.7,159.4 L1164.1,180.7 L1164.5,158.3 L1164.9,180.6 L1165.3,158.4 L1165.7,179.4 L1166.1,160.3 L1166.5,178.8 L1166.9,163.4 L1167.3,182.5 L1167.7,162.9 L1168.1,183.9 L1168.5,159.7 L1168.9,177.8 L1169.3,163.0 L1169.7,173.6 L1170.1,157.5 L1170.5,174.9 L1170.9,155.4 L1171.3,174.7 L1171.7,152.8 L1172.1,175.4 L1172.5,157.2 L1172.9,175.4 L1173.3,157.3 L1173.7,173.3 L1174.1,159.4 L1174.5,171.5 L1174.9,158.8 L1175.3,170.7 L1175.7,158.1 L1176.1,172.9 L1176.5,156.2 L1176.9,173.2 L1177.3,158.0 L1177.7,170.5 L1178.1,158.0 L1178.5,170.1 L1178.9,156.0 L1179.3,170.8 L1179.7,156.2 L1180.1,173.5 L1180.5,153.7 L1180.9,175.5 L1181.4,151.3 L1181.8,176.1 L1182.2,152.0 L1182.6,175.6 L1183.0,153.7 L1183.4,169.3 L1183.8,155.1 L1184.2,173.6 L1184.6,153.7 L1185.0,175.4 L1185.4,152.4 L1185.8,177.8 L1186.2,152.6 L1186.6,174.8 L1187.0,153.7 L1187.4,170.6 L1187.8,151.6 L1188.2,169.4 L1188.6,149.6 L1189.0,168.5 L1189.4,146.4 L1189.8,171.7 L1190.2,144.2 L1190.6,170.7 L1191.0,148.3 L1191.4,165.7 L1191.8,153.6 L1192.2,167.2 L1192.6,154.4 L1193.0,170.3 L1193.4,152.8 L1193.8,170.2 L1194.2,152.5 L1194.6,169.4 L1195.0,151.7 L1195.4,172.4 L1195.8,151.0 L1196.2,173.5 L1196.6,150.6 L1197.0,171.9 L1197.4,154.4 L1197.8,168.8 L1198.2,150.5 L1198.6,171.0 L1199.3,148.0 L1199.6,168.0 L1199.9,428.4 L1200.2,422.9 L1200.6,418.6 L1201.0,423.4 L1201.4,418.9 L1201.8,423.1 L1202.2,418.3 L1202.6,422.5 L1203.0,418.7 L1203.4,422.9 L1203.8,417.9 L1204.2,423.3 L1204.6,419.0 L1205.0,423.3 L1205.4,418.7 L1205.8,423.0 L1206.2,419.2 L1206.6,423.2 L1207.0,418.6 L1207.4,423.0 L1207.8,418.8 L1208.2,421.6 L1208.6,418.8 L1209.0,421.4 L1209.4,418.5 L1209.8,421.8 L1210.2,418.1 L1210.6,423.7 L1211.0,418.3 L1211.4,422.9 L1211.8,418.1 L1212.2,422.6 L1212.6,417.6 L1213.0,421.5 L1213.4,417.9 L1213.8,421.6 L1214.2,417.3 L1214.6,422.7 L1215.0,418.0 L1215.4,422.9 L1215.8,417.3 L1216.2,423.1 L1216.6,417.9 L1217.1,422.7 L1217.5,418.6 L1217.9,422.8 L1218.3,418.9 L1218.7,423.1 L1219.1,418.8 L1219.5,422.8 L1219.9,417.4 L1220.3,422.8 L1220.7,418.6 L1221.1,422.6 L1221.5,417.6 L1221.9,422.7 L1222.3,417.1 L1222.7,421.3 L1223.1,418.2 L1223.5,421.6 L1223.9,417.9 L1224.3,422.4 L1224.7,417.6 L1225.1,422.3 L1225.5,417.3 L1225.9,422.4 L1226.3,417.7 L1226.7,422.8 L1227.1,417.8 L1227.5,422.7 L1227.9,417.5 L1228.3,422.9 L1228.7,417.9 L1229.1,421.6 L1229.5,418.2 L1229.9,421.6 L1230.3,418.7 L1230.7,422.0 L1231.1,417.5 L1231.5,422.7 L1231.9,416.7 L1232.3,421.5 L1232.7,416.5 L1233.1,421.7 L1233.5,416.0 L1233.9,422.1 L1234.3,416.5 L1234.7,422.2 L1235.1,418.0 L1235.5,422.3 L1235.9,417.8 L1236.3,422.9 L1236.7,419.0 L1237.1,422.7 L1237.5,419.2 L1237.9,423.0 L1238.3,419.8 L1238.7,423.3 L1239.1,418.9 L1239.5,423.6 L1239.9,418.7 L1240.3,422.9 L1240.7,417.7 L1241.1,421.6 L1241.5,417.0 L1241.9,421.8 L1242.3,417.7 L1242.7,420.5 L1243.1,417.1 L1243.5,421.1 L1243.9,416.5 L1244.3,421.4 L1244.7,416.7 L1245.1,421.4 L1245.5,417.0 L1245.9,421.4 L1246.3,416.9 L1246.7,420.9 L1247.1,417.5 L1247.5,421.4 L1247.9,417.7 L1248.3,420.7 L1248.7,417.2 L1249.1,420.5 L1249.5,416.4 L1250.0,421.1 L1250.4,415.8 L1250.8,421.5 L1251.2,416.1 L1251.6,421.2 L1252.0,416.8 L1252.4,421.9 L1252.8,417.1 L1253.2,422.1 L1253.6,417.6 L1254.0,421.6 L1254.4,416.9 L1254.8,421.1 L1255.2,417.5 L1255.6,420.6 L1256.0,417.4 L1256.4,419.9 L1256.8,417.0 L1257.2,420.7 L1257.6,415.7 L1258.0,421.2 L1258.4,416.5 L1258.8,421.0 L1259.2,417.3 L1259.6,422.2 L1260.0,418.0 L1260.4,421.5 L1260.8,416.3 L1261.2,422.2 L1261.6,416.8 L1262.0,421.2 L1262.4,416.9 L1262.8,420.6 L1263.2,417.3 L1263.6,420.1 L1264.0,417.0 L1264.4,420.1 L1264.8,416.5 L1265.2,419.7 L1265.6,416.7 L1266.0,419.3 L1266.4,416.1" fill="none" stroke="#000" stroke-width="1.1" stroke-linejoin="round" stroke-linecap="round"/>
<path d="M172.5,792.5 L173.0,792.1 L173.4,792.7 L173.9,792.2 L174.4,792.8 L174.9,792.2 L175.3,792.8 L175.8,792.4 L176.3,792.8 L176.8,792.4 L177.2,792.9 L177.7,792.4 L178.2,792.9 L178.4,794.1 L178.8,803.9 L179.3,812.4 L179.8,818.9 L180.2,824.9 L180.7,830.0 L181.1,834.7 L181.6,838.6 L182.0,842.5 L182.5,845.8 L182.9,849.2 L183.3,851.9 L183.8,854.8 L184.2,856.9 L184.7,859.4 L185.2,861.0 L185.6,863.3 L186.1,864.6 L186.5,866.7 L187.0,867.9 L187.4,869.8 L187.8,870.5 L188.3,872.3 L188.8,872.7 L189.2,874.3 L189.7,874.7 L190.1,876.0 L190.6,876.4 L191.0,877.6 L191.5,878.0 L191.9,879.2 L192.4,879.1 L192.8,880.4 L193.2,880.3 L193.7,881.4 L194.2,881.4 L194.6,882.5 L195.1,882.0 L195.5,883.2 L196.0,882.8 L196.4,883.8 L196.9,883.4 L197.3,884.4 L197.8,884.1 L198.2,885.0 L198.7,884.5 L199.1,885.7 L199.6,885.0 L200.0,886.1 L200.5,885.4 L200.9,886.5 L201.4,885.7 L201.8,886.9 L202.2,886.2 L202.7,887.4 L203.2,886.6 L203.6,887.5 L204.1,887.0 L204.5,887.9 L205.0,887.4 L205.4,888.5 L205.9,887.7 L206.3,889.0 L206.8,888.2 L207.2,889.1 L207.7,888.2 L208.1,889.5 L208.6,888.5 L209.0,889.6 L209.5,888.7 L209.9,890.1 L210.4,888.8 L210.8,890.3 L211.2,889.3 L211.7,890.3 L212.2,889.5 L212.6,890.5 L213.1,889.5 L213.5,891.1 L214.0,889.8 L214.4,890.9 L214.9,890.3 L215.3,891.5 L215.8,890.4 L216.2,891.7 L216.7,890.7 L217.1,891.7 L217.6,890.9 L218.0,892.2 L218.5,891.4 L218.9,892.6 L219.4,891.5 L219.8,892.4 L220.2,891.6 L220.7,892.5 L221.2,891.5 L221.6,892.9 L222.1,891.5 L222.5,892.9 L223.0,891.7 L223.4,893.0 L223.9,891.8 L224.3,893.4 L224.8,892.1 L225.2,893.5 L225.7,892.5 L226.1,893.6 L226.6,892.6 L227.0,893.5 L227.5,892.8 L227.9,893.7 L228.4,892.8 L228.8,893.9 L229.2,893.0 L229.7,894.1 L230.2,892.9 L230.6,894.2 L231.1,893.1 L231.5,894.2 L232.0,893.1 L232.4,894.4 L232.9,893.5 L233.3,894.7 L233.8,893.7 L234.2,895.1 L234.7,894.0 L235.1,894.9 L235.6,894.2 L236.0,894.9 L236.5,894.0 L236.9,895.3 L237.4,894.0 L237.8,895.3 L238.2,894.2 L238.7,895.4 L239.2,894.4 L239.6,895.3 L240.1,894.6 L240.5,895.3 L241.0,894.4 L241.4,895.7 L241.9,894.7 L242.3,895.9 L242.8,894.7 L243.2,895.6 L243.7,894.9 L244.1,895.6 L244.6,894.9 L245.0,895.8 L245.5,894.8 L245.9,895.9 L246.4,894.9 L246.8,895.9 L247.2,895.0 L247.7,896.1 L248.2,895.3 L248.6,896.3 L249.1,895.4 L249.5,896.3 L250.0,895.6 L250.4,896.5 L250.9,895.4 L251.3,896.7 L251.8,895.4 L252.2,896.5 L252.7,895.7 L253.1,896.8 L253.6,895.8 L254.0,896.9 L254.5,896.1 L254.9,897.0 L255.4,895.9 L255.8,897.0 L256.2,895.7 L256.7,896.8 L257.2,895.8 L257.6,896.7 L258.1,895.8 L258.5,896.9 L259.0,896.0 L259.4,896.9 L259.9,896.0 L260.3,897.3 L260.8,895.9 L261.2,897.1 L261.7,896.2 L262.1,897.1 L262.6,896.0 L263.0,897.1 L263.5,896.3 L263.9,897.2 L264.4,896.3 L264.8,897.4 L265.2,896.6 L265.7,897.5 L266.2,896.7 L266.6,897.6 L267.1,896.7 L267.5,897.9 L268.0,896.6 L268.4,897.7 L268.9,896.5 L269.3,897.9 L269.8,896.6 L270.2,897.7 L270.7,896.7 L271.1,897.8 L271.6,896.7 L272.0,897.7 L272.5,896.6 L272.9,897.8 L273.4,896.6 L273.8,897.6 L274.2,896.7 L274.7,897.7 L275.2,896.5 L275.6,897.9 L276.1,896.9 L276.5,897.9 L277.0,896.8 L277.4,898.0 L277.9,897.0 L278.3,897.8 L278.8,897.2 L279.2,898.1 L279.7,897.3 L280.1,898.1 L280.6,896.9 L281.0,898.1 L281.5,897.0 L281.9,898.1 L282.4,897.1 L282.8,898.0 L283.2,897.2 L283.7,898.3 L284.2,897.1 L284.6,898.4 L285.1,897.2 L285.5,898.5 L286.0,897.5 L286.4,898.5 L286.9,897.6 L287.3,898.4 L287.8,897.5 L288.2,898.4 L288.7,897.5 L289.1,898.4 L289.6,897.6 L290.0,898.4 L290.5,897.7 L290.9,898.5 L291.4,897.9 L291.8,898.7 L292.2,897.9 L292.7,898.8 L293.2,897.6 L293.6,898.6 L294.1,897.6 L294.5,898.5 L295.0,897.5 L295.4,898.8 L295.9,897.4 L296.3,899.0 L296.8,897.6 L297.2,898.8 L297.7,897.6 L298.1,899.0 L298.6,897.9 L299.0,898.9 L299.5,897.9 L299.9,899.3 L300.4,898.0 L300.8,899.1 L301.2,898.2 L301.7,899.1 L302.2,898.2 L302.6,899.2 L303.1,898.2 L303.5,899.3 L304.0,898.3 L304.4,899.2 L304.9,898.6 L305.3,899.6 L305.8,898.4 L306.2,899.4 L306.7,898.2 L307.1,899.5 L307.6,898.4 L308.0,899.6 L308.5,898.4 L308.9,899.8 L309.4,898.7 L309.8,899.6 L310.2,898.7 L310.7,899.7 L311.2,898.8 L311.6,899.7 L312.1,898.8 L312.5,899.9 L313.0,898.7 L313.4,899.7 L313.9,898.9 L314.3,900.0 L314.8,898.9 L315.2,899.9 L315.7,899.0 L316.1,900.0 L316.6,898.8 L317.0,899.9 L317.5,899.0 L317.9,900.0 L318.4,899.0 L318.8,900.0 L319.2,899.1 L319.7,900.5 L320.2,898.9 L320.6,900.5 L321.1,899.1 L321.5,900.2 L322.0,899.0 L322.4,900.3 L322.9,898.8 L323.3,900.3 L323.8,899.0 L324.2,900.3 L324.7,899.2 L325.1,900.3 L325.6,899.1 L326.0,900.2 L326.5,899.4 L326.9,900.6 L327.4,899.3 L327.8,900.5 L328.2,899.5 L328.7,900.5 L329.2,899.5 L329.6,900.6 L330.1,899.6 L330.5,900.6 L331.0,899.7 L331.4,900.7 L331.9,899.4 L332.3,900.7 L332.8,899.5 L333.2,900.7 L333.7,899.5 L334.1,900.6 L334.6,899.7 L335.0,900.8 L335.5,899.9 L335.9,901.0 L336.4,899.7 L336.8,901.1 L337.2,899.9 L337.7,900.9 L338.2,899.8 L338.6,901.1 L339.1,899.9 L339.5,901.2 L340.0,900.0 L340.4,901.3 L340.9,900.1 L341.3,901.1 L341.8,900.4 L342.2,901.3 L342.7,900.2 L343.1,901.4 L343.6,900.1 L344.0,901.5 L344.5,900.5 L344.9,901.5 L345.4,900.4 L345.8,901.6 L346.2,900.5 L346.7,901.5 L347.2,900.5 L347.6,901.4 L348.1,900.6 L348.5,901.4 L349.0,900.6 L349.4,901.8 L349.9,900.5 L350.3,901.9 L350.8,900.8 L351.2,902.0 L351.7,901.0 L352.1,902.0 L352.6,901.1 L353.0,902.3 L353.5,901.2 L353.9,902.0 L354.4,900.8 L354.8,902.3 L355.2,901.1 L355.7,902.2 L356.2,901.2 L356.6,902.5 L357.1,901.3 L357.5,902.6 L358.0,901.5 L358.4,902.7 L358.9,901.3 L359.3,902.9 L359.8,901.5 L360.2,903.0 L360.7,901.5 L361.1,903.1 L361.6,901.9 L362.0,902.9 L362.5,902.0 L362.9,903.0 L363.4,901.9 L363.8,903.2 L364.2,901.9 L364.7,903.1 L365.2,902.2 L365.6,903.1 L365.8,900.1 L366.3,850.5 L366.8,829.4 L367.2,814.9 L367.7,807.1 L368.2,805.2 L368.7,804.3 L369.2,803.4 L369.6,803.0 L370.1,802.6 L370.6,802.7 L371.0,803.3 L371.5,802.0 L371.9,803.3 L372.4,802.3 L372.8,803.1 L373.3,802.2 L373.7,803.5 L374.2,802.2 L374.6,803.5 L375.1,802.4 L375.5,803.6 L376.0,802.4 L376.4,803.5 L376.9,802.6 L377.3,803.7 L377.8,802.5 L378.2,803.6 L378.7,802.7 L379.1,803.5 L379.6,802.9 L380.0,803.6 L380.5,802.9 L380.9,803.8 L381.4,802.6 L381.8,803.9 L382.3,802.8 L382.7,804.0 L383.2,802.8 L383.6,803.9 L384.1,802.7 L384.5,804.0 L385.0,802.9 L385.4,804.0 L385.9,803.0 L386.3,804.0 L386.8,803.2 L387.2,804.1 L387.7,803.2 L388.2,804.4 L388.6,803.1 L389.1,804.2 L389.5,803.3 L390.0,804.3 L390.4,803.3 L390.9,804.4 L391.3,803.4 L391.8,804.5 L392.2,803.5 L392.7,804.6 L393.1,803.5 L393.6,804.7 L394.0,803.8 L394.5,805.0 L394.9,803.8 L395.4,805.0 L395.8,803.9 L396.3,805.0 L396.7,803.8 L397.2,805.2 L397.6,804.0 L398.1,805.1 L398.5,804.2 L399.0,805.2 L399.4,804.0 L399.9,805.4 L400.3,804.1 L400.8,805.4 L401.2,804.3 L401.7,805.3 L402.1,804.6 L402.6,805.5 L403.0,804.5 L403.5,805.9 L403.9,804.6 L404.4,805.5 L404.9,804.6 L405.3,805.9 L405.8,804.6 L406.2,805.7 L406.7,804.8 L407.1,805.7 L407.6,805.0 L408.0,806.2 L408.5,805.1 L408.9,806.0 L409.4,805.2 L409.8,806.1 L410.3,805.2 L410.7,806.0 L411.2,805.1 L411.6,806.1 L412.1,804.9 L412.5,806.2 L413.0,805.3 L413.4,806.3 L413.9,805.3 L414.3,806.2 L414.8,805.4 L415.2,806.6 L415.7,805.4 L416.1,806.5 L416.6,805.6 L417.0,806.5 L417.5,805.6 L417.9,806.6 L418.4,805.6 L418.8,806.8 L419.3,805.5 L419.7,806.7 L420.2,805.5 L420.6,806.8 L421.1,805.7 L421.6,806.8 L422.0,806.0 L422.5,807.0 L422.9,806.1 L423.4,807.1 L423.8,806.1 L424.3,807.0 L424.7,806.0 L425.2,807.2 L425.6,806.1 L426.1,807.2 L426.5,806.1 L427.0,807.3 L427.4,806.2 L427.9,807.2 L428.3,806.3 L428.8,807.3 L429.2,806.3 L429.7,807.5 L430.1,806.3 L430.6,807.6 L431.0,806.6 L431.5,807.4 L431.9,806.4 L432.4,807.6 L432.8,806.4 L433.3,807.3 L433.7,806.5 L434.2,807.6 L434.6,806.3 L435.1,807.5 L435.5,806.7 L436.0,807.7 L436.4,807.0 L436.9,808.0 L437.3,807.0 L437.8,808.0 L438.3,807.0 L438.7,807.9 L439.2,806.7 L439.6,808.3 L440.1,806.9 L440.5,807.9 L441.0,807.2 L441.4,808.1 L441.9,807.2 L442.3,808.5 L442.8,807.3 L443.2,808.5 L443.7,807.4 L444.1,808.7 L444.6,807.3 L445.0,808.6 L445.5,807.4 L445.9,808.5 L446.4,807.6 L446.8,808.6 L447.3,807.5 L447.7,808.5 L448.2,807.9 L448.6,808.8 L449.1,807.9 L449.5,808.8 L450.0,807.8 L450.4,809.1 L450.9,807.9 L451.3,808.9 L451.8,808.1 L452.2,809.3 L452.7,808.1 L453.1,809.1 L453.6,808.3 L454.0,809.5 L454.5,808.0 L455.0,809.4 L455.4,808.1 L455.9,809.1 L456.3,808.1 L456.8,809.4 L457.2,808.1 L457.7,809.7 L458.1,808.2 L458.6,809.6 L459.0,808.2 L459.5,809.8 L459.9,808.4 L460.4,809.3 L460.8,808.6 L461.3,809.5 L461.7,808.5 L462.2,809.4 L462.6,808.7 L463.1,809.6 L463.5,808.6 L464.0,809.8 L464.4,808.9 L464.9,809.7 L465.3,808.9 L465.8,810.0 L466.2,808.5 L466.7,809.9 L467.1,808.9 L467.6,809.8 L468.0,809.0 L468.5,809.8 L468.9,809.0 L469.4,810.1 L469.8,808.9 L470.3,809.9 L470.7,809.0 L471.2,810.1 L471.7,809.1 L472.1,810.1 L472.6,809.4 L473.0,810.6 L473.5,809.3 L473.9,810.7 L474.4,809.6 L474.8,810.5 L475.3,809.5 L475.7,810.6 L476.2,809.4 L476.6,810.5 L477.1,809.4 L477.5,810.5 L478.0,809.6 L478.4,810.5 L478.9,809.6 L479.3,810.8 L479.8,809.7 L480.2,810.9 L480.7,809.7 L481.1,810.8 L481.6,809.8 L482.0,810.7 L482.5,809.7 L482.9,810.9 L483.4,809.9 L483.8,810.9 L484.3,810.0 L484.7,811.0 L485.2,809.8 L485.6,811.2 L486.1,810.0 L486.5,811.2 L487.0,810.5 L487.4,811.2 L487.9,810.5 L488.4,811.5 L488.8,810.1 L489.3,811.5 L489.7,810.4 L490.2,811.3 L490.6,810.6 L491.1,811.4 L491.5,810.4 L492.0,811.3 L492.4,810.4 L492.9,811.5 L493.3,810.3 L493.8,811.7 L494.2,810.5 L494.7,811.7 L495.1,810.7 L495.6,811.9 L496.0,810.9 L496.5,812.0 L496.9,810.7 L497.4,812.0 L497.8,810.8 L498.3,812.3 L498.7,810.8 L499.2,812.2 L499.6,810.8 L500.1,812.2 L500.5,811.2 L501.0,812.2 L501.4,811.3 L501.9,812.2 L502.3,811.2 L502.8,812.2 L503.2,811.2 L503.7,812.2 L504.1,811.2 L504.6,812.3 L504.8,812.3 L505.3,813.1 L505.7,815.2 L506.2,817.5 L506.6,820.7 L507.1,824.0 L507.5,829.6 L508.0,836.1 L508.4,843.2 L508.9,848.6 L509.3,852.4 L509.8,855.5 L510.2,858.7 L510.7,861.2 L511.1,864.0 L511.6,866.0 L512.0,868.3 L512.5,870.0 L512.9,872.0 L513.4,873.3 L513.8,875.2 L514.3,876.2 L514.7,877.9 L515.2,879.0 L515.6,880.6 L516.1,881.5 L516.5,882.9 L517.0,883.6 L517.4,885.1 L517.9,885.5 L518.3,886.8 L518.8,887.3 L519.2,888.5 L519.7,888.8 L520.1,890.1 L520.6,890.4 L521.0,891.6 L521.5,891.9 L521.9,893.2 L522.4,893.2 L522.8,894.6 L523.3,894.6 L523.7,895.9 L524.2,895.9 L524.6,897.0 L525.1,897.0 L525.5,898.1 L526.0,898.0 L526.5,899.0 L526.9,899.0 L527.4,900.0 L527.8,900.0 L528.3,901.0 L528.7,900.7 L529.2,901.8 L529.6,901.4 L530.1,902.5 L530.5,902.0 L531.0,903.1 L531.4,902.6 L531.9,903.9 L532.3,903.1 L532.8,904.6 L533.2,904.0 L533.7,905.0 L534.1,904.7 L534.6,905.6 L535.0,905.0 L535.5,906.3 L535.9,905.7 L536.4,907.1 L536.8,906.3 L537.3,907.7 L537.7,906.7 L538.2,908.1 L538.6,907.2 L539.1,908.4 L539.5,907.5 L540.0,908.8 L540.4,908.0 L540.9,908.9 L541.3,908.0 L541.8,909.7 L542.2,908.6 L542.7,909.6 L543.1,908.7 L543.6,910.2 L544.0,909.1 L544.5,910.0 L544.9,909.4 L545.4,910.3 L545.8,909.7 L546.3,910.6 L546.7,909.9 L547.2,910.9 L547.7,909.9 L548.1,911.0 L548.6,910.0 L549.0,911.4 L549.5,910.2 L549.9,911.2 L550.4,910.5 L550.8,911.4 L551.3,910.4 L551.7,911.7 L552.2,910.6 L552.6,911.8 L553.1,910.9 L553.5,912.1 L554.0,911.1 L554.4,911.9 L554.9,911.2 L555.3,912.2 L555.8,911.3 L556.2,912.1 L556.7,911.2 L557.1,912.4 L557.6,911.2 L558.0,912.3 L558.5,911.3 L558.9,912.4 L559.4,911.4 L559.8,912.5 L560.3,911.5 L560.7,912.8 L561.2,911.5 L561.6,912.6 L562.1,911.4 L562.5,913.0 L563.0,911.6 L563.4,912.9 L563.9,911.9 L564.3,913.1 L564.8,912.1 L565.2,913.1 L565.7,912.2 L566.1,913.5 L566.6,911.9 L567.0,913.5 L567.5,911.9 L568.0,913.4 L568.4,912.0 L568.9,913.2 L569.3,912.0 L569.8,913.2 L570.2,912.1 L570.7,913.3 L571.1,912.1 L571.6,913.6 L572.0,912.5 L572.5,913.4 L572.9,912.4 L573.4,913.7 L573.8,912.6 L574.3,913.5 L574.7,912.8 L575.2,913.6 L575.6,912.8 L576.1,913.5 L576.5,912.7 L577.0,913.8 L577.4,912.7 L577.9,913.9 L578.3,912.8 L578.8,913.8 L579.2,912.9 L579.7,913.9 L580.1,912.8 L580.6,913.9 L581.0,912.9 L581.5,913.9 L581.9,913.1 L582.4,914.0 L582.8,913.1 L583.3,914.3 L583.7,913.3 L584.2,914.1 L584.6,913.2 L585.1,914.3 L585.5,913.2 L586.0,914.1 L586.4,913.1 L586.9,914.1 L587.3,913.1 L587.8,914.0 L588.2,913.2 L588.7,914.3 L589.2,913.2 L589.6,914.4 L590.1,913.5 L590.5,914.6 L591.0,913.6 L591.4,914.8 L591.9,913.3 L592.3,914.8 L592.8,913.7 L593.2,914.5 L593.7,913.7 L594.1,914.4 L594.6,913.5 L595.0,914.5 L595.5,913.4 L595.9,914.8 L596.4,913.6 L596.8,914.5 L597.3,913.5 L597.7,914.7 L598.2,913.4 L598.6,914.6 L599.1,913.6 L599.5,914.6 L600.0,913.7 L600.4,914.6 L600.9,913.9 L601.3,914.6 L601.8,913.6 L602.2,914.6 L602.7,913.3 L603.1,914.8 L603.6,913.2 L604.0,914.8 L604.5,913.4 L604.9,914.7 L605.4,913.7 L605.8,915.0 L606.3,913.9 L606.7,915.1 L607.2,914.0 L607.6,915.2 L608.1,914.1 L608.5,915.1 L609.0,914.1 L609.4,915.1 L609.9,914.0 L610.4,915.1 L610.8,914.2 L611.3,915.2 L611.7,914.3 L612.2,915.4 L612.6,914.3 L613.1,915.5 L613.5,914.4 L614.0,915.4 L614.4,914.4 L614.9,915.2 L615.3,914.5 L615.8,915.3 L616.2,914.3 L616.7,915.5 L617.1,914.5 L617.6,915.3 L618.0,914.6 L618.5,915.5 L618.9,914.5 L619.4,915.4 L619.8,914.6 L620.3,915.4 L620.7,914.6 L621.2,915.5 L621.6,914.8 L622.1,915.8 L622.5,914.9 L623.0,915.7 L623.4,914.9 L623.9,915.7 L624.3,914.8 L624.8,915.6 L625.2,914.5 L625.7,915.9 L626.1,914.6 L626.6,915.6 L627.0,914.8 L627.5,915.6 L627.9,914.7 L628.4,915.8 L628.8,914.9 L629.3,915.7 L629.7,914.8 L630.2,915.8 L630.6,914.8 L631.1,915.8 L631.6,914.9 L632.0,916.0 L632.5,914.8 L632.9,915.8 L633.4,914.7 L633.8,916.0 L634.3,914.7 L634.7,916.0 L635.2,914.9 L635.6,916.0 L636.1,914.9 L636.5,916.0 L637.0,914.8 L637.4,916.1 L637.9,914.8 L638.3,915.6 L638.8,914.8 L639.2,915.9 L639.7,914.5 L640.1,916.0 L640.6,915.0 L641.0,916.0 L641.5,914.9 L641.9,916.2 L642.4,914.9 L642.8,916.3 L643.3,915.0 L643.7,916.0 L644.2,915.0 L644.6,916.1 L645.1,915.1 L645.5,916.4 L646.0,915.1 L646.4,916.1 L646.9,915.3 L647.3,916.2 L647.8,915.5 L648.2,916.3 L648.7,915.4 L649.1,916.6 L649.6,915.3 L650.0,916.4 L650.5,915.5 L650.9,916.5 L651.4,915.5 L651.9,916.4 L652.3,915.3 L652.8,916.5 L653.2,915.4 L653.7,916.5 L654.1,915.2 L654.6,916.4 L655.0,915.4 L655.5,916.2 L655.9,915.4 L656.4,916.3 L656.8,915.5 L657.3,916.7 L657.7,915.6 L658.2,916.4 L658.6,915.7 L659.1,916.5 L659.5,915.3 L660.0,916.8 L660.4,915.7 L660.9,916.8 L661.3,915.8 L661.8,916.7 L662.2,915.8 L662.7,916.6 L663.1,915.6 L663.6,916.9 L664.0,915.7 L664.5,916.9 L664.9,915.5 L665.4,916.6 L665.8,915.9 L666.3,916.7 L666.7,915.6 L667.2,917.1 L667.6,915.9 L668.1,916.8 L668.5,915.8 L669.0,917.0 L669.4,915.8 L669.9,916.6 L670.3,915.8 L670.8,916.5 L671.2,915.7 L671.7,916.6 L672.1,915.5 L672.6,916.7 L673.1,915.9 L673.5,916.9 L674.0,916.0 L674.4,917.0 L674.9,915.9 L675.3,917.0 L675.8,916.1 L676.2,916.9 L676.7,915.7 L677.1,916.8 L677.6,916.0 L678.0,917.0 L678.5,916.0 L678.9,917.1 L679.4,916.1 L679.8,917.2 L680.3,915.7 L680.7,917.2 L681.2,915.9 L681.6,916.9 L682.1,916.0 L682.5,917.0 L683.0,916.3 L683.4,917.1 L683.9,916.3 L684.3,917.2 L684.8,916.2 L685.2,917.1 L685.7,916.0 L686.1,916.9 L686.6,916.1 L687.0,916.8 L687.5,916.0 L687.9,916.9 L688.4,916.3 L688.8,917.1 L689.3,916.5 L689.7,917.5 L690.2,916.4 L690.6,917.4 L691.1,916.3 L691.5,917.4 L692.0,916.2 L692.4,917.2 L692.9,916.3 L693.3,917.2 L693.8,916.4 L694.0,915.1 L694.5,857.1 L695.0,836.3 L695.4,826.4 L695.9,821.4 L696.4,819.7 L696.9,818.9 L697.4,817.9 L697.9,817.4 L698.3,816.8 L698.8,816.8 L699.3,816.5 L699.6,817.1 L700.1,816.0 L700.5,817.3 L701.0,816.1 L701.4,817.1 L701.9,816.3 L702.3,817.0 L702.8,816.2 L703.2,817.2 L703.7,816.2 L704.1,817.0 L704.6,816.1 L705.0,817.0 L705.5,816.1 L705.9,817.3 L706.4,816.1 L706.8,817.4 L707.3,816.5 L707.7,817.4 L708.2,816.5 L708.6,817.6 L709.1,816.5 L709.5,817.5 L710.0,816.3 L710.5,817.7 L710.9,816.3 L711.4,817.6 L711.8,816.9 L712.3,817.9 L712.7,816.8 L713.2,818.2 L713.6,817.1 L714.1,818.0 L714.5,817.1 L715.0,818.2 L715.4,817.3 L715.9,818.1 L716.3,816.9 L716.8,818.1 L717.2,817.3 L717.7,818.2 L718.1,817.2 L718.6,818.4 L719.0,817.4 L719.5,818.3 L719.9,817.1 L720.4,818.4 L720.9,817.2 L721.3,818.4 L721.8,817.4 L722.2,818.8 L722.7,817.6 L723.1,818.9 L723.6,817.9 L724.0,818.9 L724.5,817.8 L724.9,818.7 L725.4,817.7 L725.8,818.9 L726.3,817.4 L726.7,819.0 L727.2,817.5 L727.6,819.0 L728.1,817.6 L728.5,819.1 L729.0,817.8 L729.4,819.0 L729.9,817.8 L730.3,819.1 L730.8,817.9" fill="none" stroke="#000" stroke-width="1.35" stroke-linejoin="round" stroke-linecap="round"/>
<path d="M846.3,800.4 L846.8,809.1 L847.2,817.4 L847.7,823.0 L848.1,829.4 L848.6,831.9 L849.0,837.1 L849.5,838.8 L849.9,843.0 L850.4,842.6 L850.8,847.3 L851.3,845.7 L851.7,851.3 L852.2,848.2 L852.6,853.5 L853.1,851.0 L853.5,855.0 L854.0,852.3 L854.4,857.4 L854.9,854.2 L855.3,859.5 L855.8,855.8 L856.2,861.3 L856.7,856.7 L857.1,861.6 L857.6,859.2 L858.0,863.5 L858.5,859.8 L858.9,864.5 L859.4,861.4 L859.8,865.4 L860.3,861.6 L860.7,867.1 L861.2,861.8 L861.6,867.9 L862.1,862.0 L862.5,868.7 L863.0,864.0 L863.4,869.6 L863.9,865.3 L864.3,870.0 L864.8,866.9 L865.2,871.7 L865.7,867.3 L866.1,872.5 L866.6,867.9 L867.0,872.5 L867.5,868.4 L867.9,873.3 L868.4,869.3 L868.8,874.4 L869.3,870.1 L869.7,875.0 L870.2,870.5 L870.6,875.7 L871.1,871.0 L871.5,877.1 L872.0,872.2 L872.4,877.4 L872.9,872.3 L873.3,876.7 L873.8,873.4 L874.2,876.7 L874.7,872.4 L875.1,877.2 L875.6,872.9 L876.0,877.1 L876.5,871.7 L876.9,878.5 L877.4,874.2 L877.8,878.3 L878.3,874.5 L878.7,878.3 L879.2,875.5 L879.6,880.1 L880.1,873.2 L880.5,880.8 L881.0,876.8 L881.4,881.8 L881.9,877.1 L882.3,882.2 L882.8,877.5 L883.2,882.6 L883.7,877.9 L884.2,882.6 L884.6,877.7 L885.1,882.6 L885.5,878.1 L886.0,883.5 L886.4,877.9 L886.9,884.4 L887.3,878.0 L887.8,883.6 L888.2,879.9 L888.7,884.2 L889.1,879.2 L889.6,885.4 L890.0,880.6 L890.5,886.0 L890.9,880.9 L891.4,885.1 L891.8,881.2 L892.3,886.2 L892.7,881.1 L893.2,885.4 L893.6,881.3 L894.1,885.0 L894.5,880.7 L895.0,884.9 L895.4,879.8 L895.9,886.6 L896.3,880.6 L896.8,889.0 L897.2,881.4 L897.7,888.1 L898.1,881.2 L898.6,887.5 L899.0,881.8 L899.5,887.3 L899.9,883.3 L900.4,888.5 L900.8,883.5 L901.3,888.4 L901.7,884.0 L902.2,888.3 L902.6,883.7 L903.1,888.6 L903.5,883.5 L904.0,888.9 L904.4,884.5 L904.9,889.3 L905.3,885.0 L905.8,890.0 L906.2,884.2 L906.7,890.5 L907.1,884.2 L907.6,889.9 L908.0,884.4 L908.5,890.4 L908.9,883.7 L909.4,890.1 L909.8,884.4 L910.3,888.9 L910.7,885.2 L911.2,889.4 L911.6,885.3 L912.1,889.0 L912.5,886.1 L913.0,890.4 L913.4,885.9 L913.9,890.6 L914.3,886.2 L914.8,891.6 L915.2,886.2 L915.7,892.0 L916.1,887.5 L916.6,890.5 L917.0,886.3 L917.5,891.7 L917.9,886.0 L918.4,890.9 L918.8,886.8 L919.3,890.1 L919.7,886.3 L920.2,891.8 L920.6,887.7 L921.1,891.8 L921.6,887.2 L922.0,891.2 L922.5,885.9 L922.9,892.3 L923.4,885.5 L923.8,892.2 L924.3,887.0 L924.7,892.2 L925.2,888.1 L925.6,893.5 L926.1,889.7 L926.5,893.1 L927.0,889.0 L927.4,894.7 L927.9,889.2 L928.3,893.6 L928.8,888.0 L929.2,894.7 L929.7,888.5 L930.1,893.4 L930.6,888.9 L931.0,893.6 L931.5,889.8 L931.9,894.2 L932.4,889.2 L932.8,893.7 L933.3,890.4 L933.7,895.3 L934.2,889.1 L934.6,895.4 L935.1,889.8 L935.5,895.6 L936.0,889.6 L936.4,895.2 L936.9,890.8 L937.3,895.0 L937.8,890.8 L938.2,894.7 L938.7,890.8 L939.1,895.9 L939.6,890.1 L940.0,895.9 L940.5,890.7 L940.9,895.0 L941.4,891.3 L941.8,894.9 L942.3,891.1 L942.7,895.1 L943.2,889.4 L943.6,895.5 L944.1,889.1 L944.5,897.4 L945.0,890.6 L945.4,896.1 L945.9,891.6 L946.3,896.6 L946.8,892.1 L947.2,896.5 L947.7,892.1 L948.1,896.5 L948.6,890.8 L949.0,895.3 L949.5,891.7 L949.9,894.9 L950.4,891.0 L950.8,895.8 L951.3,891.0 L951.7,897.0 L952.2,890.8 L952.6,897.4 L953.1,892.3 L953.5,896.2 L954.0,893.1 L954.4,896.3 L954.9,893.0 L955.3,897.1 L955.8,892.9 L956.2,896.5 L956.7,893.4 L957.1,896.8 L957.6,893.6 L958.0,897.1 L958.5,893.4 L959.0,897.9 L959.4,892.7 L959.9,898.0 L960.3,892.2 L960.8,898.0 L961.2,892.1 L961.7,897.2 L962.1,893.2 L962.6,896.5 L963.0,892.7 L963.5,897.3 L963.9,892.9 L964.4,897.6 L964.8,893.1 L965.3,898.2 L965.7,893.3 L966.2,896.9 L966.6,893.1 L967.1,897.0 L967.5,893.2 L968.0,897.4 L968.4,892.3 L968.9,897.2 L969.3,893.8 L969.8,897.7 L970.2,893.0 L970.7,898.5 L971.1,892.9 L971.6,899.9 L972.0,893.4 L972.5,898.2 L972.9,894.1 L973.4,897.9 L973.8,892.8 L974.3,897.9 L974.7,893.3 L975.2,898.6 L975.6,894.1 L976.1,898.5 L976.5,894.9 L977.0,898.3 L977.4,894.9 L977.9,898.9 L978.3,894.0 L978.8,899.4 L979.2,893.0 L979.7,899.5 L980.1,894.5 L980.6,899.2 L981.0,893.4 L981.5,899.6 L981.9,894.1 L982.4,899.5 L982.8,894.5 L983.3,900.4 L983.7,896.2 L984.2,899.4 L984.6,895.5 L985.1,901.2 L985.5,895.4 L986.0,900.7 L986.4,894.3 L986.9,900.5 L987.3,896.6 L987.8,900.6 L988.2,896.3 L988.7,900.5 L989.1,895.4 L989.6,899.8 L990.0,895.3 L990.5,900.2 L990.9,895.2 L991.4,898.9 L991.8,895.2 L992.3,899.5 L992.7,895.5 L993.2,900.5 L993.6,896.2 L994.1,899.5 L994.5,896.2 L995.0,899.8 L995.4,895.3 L995.9,900.8 L996.4,895.5 L996.8,899.8 L997.3,896.4 L997.7,899.8 L998.2,896.1 L998.6,901.0 L999.1,895.9 L999.5,900.6 L1000.0,895.6 L1000.4,900.1 L1000.9,895.5 L1001.3,899.5 L1001.8,893.9 L1002.2,900.4 L1002.7,894.0 L1003.1,899.6 L1003.6,894.9 L1004.0,900.0 L1004.5,895.0 L1004.9,899.8 L1005.4,896.1 L1005.8,900.3 L1006.3,895.4 L1006.7,901.1 L1007.2,895.7 L1007.6,901.5 L1008.1,896.2 L1008.5,900.0 L1009.0,896.5 L1009.4,900.4 L1009.9,895.9 L1010.3,900.0 L1010.8,896.3 L1011.2,901.0 L1011.7,895.4 L1012.1,900.2 L1012.6,895.1 L1013.0,900.3 L1013.5,896.6 L1013.9,900.9 L1014.4,896.7 L1014.8,900.6 L1015.3,896.7 L1015.7,901.0 L1016.2,895.7 L1016.6,900.8 L1017.1,896.4 L1017.5,901.5 L1018.0,895.5 L1018.4,900.8 L1018.9,895.9 L1019.3,899.6 L1019.8,895.7 L1020.2,900.0 L1020.7,894.5 L1021.1,899.8 L1021.6,895.8 L1022.0,900.6 L1022.5,895.5 L1022.9,902.1 L1023.4,895.6 L1023.8,901.1 L1024.3,895.7 L1024.7,901.4 L1025.2,896.7 L1025.6,900.9 L1026.1,897.1 L1026.5,900.9 L1027.0,895.5 L1027.4,901.0 L1027.9,894.5 L1028.3,902.7 L1028.8,895.2 L1029.2,901.0 L1029.7,894.8 L1030.1,901.9 L1030.6,894.8 L1031.0,901.3 L1031.5,896.9 L1031.9,900.7 L1032.4,895.8 L1032.8,900.9 L1033.3,895.6 L1033.8,896.0 L1034.6,812.5 L1035.0,814.4 L1035.5,810.4 L1035.9,813.9 L1036.4,810.2 L1036.8,814.5 L1037.3,809.3 L1037.7,814.9 L1038.2,810.7 L1038.7,814.8 L1039.1,810.8 L1039.6,815.8 L1040.0,811.1 L1040.5,815.2 L1040.9,810.6 L1041.4,813.9 L1041.8,810.6 L1042.3,813.3 L1042.8,809.6 L1043.2,813.8 L1043.7,810.0 L1044.1,814.9 L1044.6,810.7 L1045.0,815.6 L1045.5,811.0 L1046.4,809.8 L1070.4,813.6 L1070.6,815.5 L1071.1,813.2 L1071.5,815.5 L1072.0,811.6 L1072.4,816.3 L1072.9,812.1 L1073.3,815.2 L1073.8,812.2 L1074.2,814.9 L1074.7,812.2 L1075.1,815.3 L1075.6,812.2 L1076.0,815.5 L1076.5,812.1 L1076.9,815.1 L1077.4,811.8 L1077.8,816.2 L1078.3,811.2 L1078.7,816.1 L1079.2,812.0 L1079.6,815.4 L1080.1,812.1 L1080.5,815.8 L1081.0,811.9 L1081.4,815.3 L1081.9,810.7 L1082.3,815.3 L1082.8,812.2 L1083.2,815.5 L1083.7,812.3 L1084.1,816.1 L1084.6,812.7 L1085.0,816.3 L1085.5,812.6 L1085.9,816.3 L1086.4,813.0 L1086.8,816.3 L1087.3,812.9 L1087.7,815.7 L1088.2,813.2 L1088.6,815.6 L1089.1,813.2 L1089.5,815.7 L1090.0,813.2 L1090.4,818.3 L1090.9,812.9 L1091.3,816.2 L1091.8,813.6 L1092.2,816.2 L1092.7,811.7 L1093.1,816.6 L1093.6,812.3 L1094.0,815.4 L1094.5,812.0 L1094.9,815.2 L1095.4,811.9 L1095.8,814.7 L1096.3,811.5 L1096.7,815.0 L1097.2,811.3 L1097.6,816.0 L1098.1,812.2 L1098.5,815.7 L1099.0,812.9 L1099.4,815.8 L1099.9,812.8 L1100.3,816.3 L1100.8,811.9 L1101.2,815.1 L1101.7,811.7 L1102.1,815.8 L1102.6,811.9 L1103.0,815.9 L1103.5,811.9 L1103.9,816.4 L1104.4,811.2 L1104.8,815.8 L1105.3,811.8 L1105.7,815.7 L1106.2,812.6 L1106.6,815.4 L1107.1,813.2 L1107.5,816.0 L1108.0,811.1 L1108.4,816.5 L1108.9,812.3 L1109.3,815.8 L1109.8,812.0 L1110.2,816.2 L1110.7,811.9 L1111.1,815.8 L1111.6,811.7 L1112.0,815.6 L1112.5,811.6 L1112.9,814.6 L1113.4,812.3 L1113.8,815.1 L1114.3,812.0 L1114.7,816.5 L1115.2,812.8 L1115.6,815.9 L1116.1,813.5 L1116.5,816.5 L1117.0,812.5 L1117.4,816.5 L1117.9,812.0 L1118.3,815.2 L1118.8,811.6 L1119.2,815.6 L1119.7,812.6 L1120.1,815.5 L1120.6,812.2 L1121.0,814.8 L1121.5,811.9 L1121.9,815.0 L1122.4,811.4 L1122.8,814.6 L1123.3,811.7 L1123.7,814.4 L1124.2,811.3 L1124.6,814.9 L1125.1,811.6 L1125.5,815.3 L1126.0,811.2 L1126.4,816.1 L1126.9,812.0 L1127.3,815.2 L1127.8,812.4 L1128.2,816.2 L1128.7,812.6 L1129.1,815.3 L1129.6,812.9 L1130.0,815.7 L1130.5,813.0 L1130.9,815.4 L1131.4,812.9 L1131.8,815.6 L1132.3,811.8 L1132.7,815.7 L1133.2,812.0 L1133.6,815.7 L1134.1,810.9 L1134.5,815.8 L1135.0,812.4 L1135.4,815.3 L1135.9,812.5 L1136.3,815.8 L1136.8,812.9 L1137.2,816.8 L1137.7,812.2 L1138.1,816.1 L1138.6,811.8 L1139.0,816.3 L1139.5,812.4 L1139.9,815.0 L1140.4,812.6 L1140.8,815.2 L1141.3,811.8 L1141.7,815.4 L1142.2,812.0 L1142.6,816.7 L1143.1,811.8 L1143.5,816.2 L1144.0,811.8 L1144.4,815.9 L1144.9,811.7 L1145.3,815.3 L1145.8,812.6 L1146.2,816.6 L1146.7,811.7 L1147.1,815.8 L1147.6,813.1 L1148.0,817.0 L1148.5,813.0 L1148.9,816.1 L1149.4,812.1 L1149.8,815.3 L1150.3,812.7 L1150.7,817.3 L1151.2,812.2 L1151.6,815.6 L1152.1,811.8 L1152.5,815.8 L1153.0,811.6 L1153.4,816.0 L1153.9,811.6 L1154.3,815.6 L1154.8,812.0 L1155.2,815.1 L1155.7,811.9 L1156.1,814.9 L1156.6,812.2 L1157.0,815.6 L1157.5,812.7 L1157.9,815.4 L1158.4,811.9 L1158.8,816.8 L1159.3,812.7 L1159.7,816.6 L1160.2,812.2 L1160.6,816.5 L1161.1,812.9 L1161.5,816.0 L1162.0,812.1 L1162.4,817.3 L1162.9,812.2 L1163.3,816.3 L1163.8,812.6 L1164.2,816.4 L1164.7,812.1 L1165.1,816.1 L1165.6,813.1 L1166.0,816.2 L1166.5,812.3 L1166.9,816.1 L1167.4,812.3 L1167.8,816.2 L1168.3,812.5 L1168.7,815.5 L1169.2,812.9 L1169.6,815.5 L1170.1,812.8 L1170.5,815.3 L1171.0,812.6 L1171.4,816.0 L1171.9,811.8 L1172.3,816.3 L1172.8,812.8 L1173.2,800.0 L1173.6,815.0 L1173.8,816.0 L1174.3,826.9 L1174.7,833.3 L1175.2,836.7 L1175.6,841.2 L1176.1,842.7 L1176.5,847.0 L1177.0,846.8 L1177.4,851.1 L1177.9,850.1 L1178.3,854.3 L1178.8,852.6 L1179.2,856.7 L1179.7,855.8 L1180.1,859.8 L1180.6,857.3 L1181.0,861.5 L1181.5,859.5 L1181.9,863.1 L1182.4,861.0 L1182.8,864.9 L1183.3,862.3 L1183.7,867.6 L1184.2,863.0 L1184.6,867.7 L1185.1,864.5 L1185.5,868.8 L1186.0,865.7 L1186.4,871.5 L1186.9,865.8 L1187.3,872.2 L1187.8,867.2 L1188.2,873.0 L1188.7,869.1 L1189.1,875.7 L1189.6,869.5 L1190.0,875.4 L1190.5,870.8 L1190.9,875.6 L1191.4,871.7 L1191.8,876.4 L1192.3,872.4 L1192.7,876.6 L1193.2,874.0 L1193.6,877.7 L1194.1,874.3 L1194.5,878.9 L1195.0,875.2 L1195.4,879.2 L1195.9,876.2 L1196.3,880.8 L1196.8,876.1 L1197.2,882.4 L1197.7,877.5 L1198.1,882.0 L1198.6,877.8 L1199.0,882.9 L1199.5,878.0 L1199.9,883.3 L1200.4,877.5 L1200.8,882.9 L1201.3,877.9 L1201.7,882.7 L1202.2,877.4 L1202.6,883.3 L1203.1,878.3 L1203.5,884.5 L1204.0,879.7 L1204.4,884.2 L1204.9,879.6 L1205.3,884.0 L1205.8,880.9 L1206.2,884.1 L1206.7,881.2 L1207.1,885.6 L1207.6,880.9 L1208.0,886.6 L1208.5,880.9 L1208.9,887.7 L1209.4,882.5 L1209.8,887.9 L1210.3,882.9 L1210.7,888.0 L1211.2,883.5 L1211.7,888.6 L1212.1,883.2 L1212.6,889.3 L1213.0,884.9 L1213.5,888.8 L1213.9,884.0 L1214.4,888.5 L1214.8,884.3 L1215.3,888.6 L1215.7,885.2 L1216.2,889.8 L1216.6,884.7 L1217.1,890.1 L1217.5,885.4 L1218.0,889.7 L1218.4,885.6 L1218.9,889.8 L1219.3,885.2 L1219.8,889.6 L1220.2,885.4 L1220.7,890.0 L1221.1,886.7 L1221.6,890.8 L1222.0,886.1 L1222.5,890.5 L1222.9,886.3 L1223.4,890.9 L1223.8,886.3 L1224.3,892.8 L1224.7,887.6 L1225.2,893.3 L1225.6,887.5 L1226.1,892.1 L1226.5,887.8 L1227.0,892.6 L1227.4,887.0 L1227.9,892.0 L1228.3,887.9 L1228.8,891.1 L1229.2,887.4 L1229.7,892.3 L1230.1,888.2 L1230.6,892.5 L1231.0,888.6 L1231.5,893.1 L1231.9,888.2 L1232.4,894.4 L1232.8,889.8 L1233.3,893.6 L1233.7,889.3 L1234.2,894.1 L1234.6,889.6 L1235.1,894.0 L1235.5,889.0 L1236.0,892.9 L1236.4,889.8 L1236.9,893.3 L1237.3,890.0 L1237.8,894.2 L1238.2,886.3 L1238.7,895.4 L1239.1,888.5 L1239.6,895.1 L1240.0,889.2 L1240.5,893.4 L1240.9,890.2 L1241.4,894.3 L1241.8,889.6 L1242.3,895.0 L1242.7,888.8 L1243.2,894.7 L1243.6,890.1 L1244.1,895.6 L1244.5,890.6 L1245.0,895.2 L1245.4,890.0 L1245.9,895.9 L1246.3,890.8 L1246.8,895.7 L1247.2,891.2 L1247.7,895.4 L1248.1,891.1 L1248.6,895.6 L1249.1,891.4 L1249.5,896.6 L1250.0,891.6 L1250.4,896.0 L1250.9,891.0 L1251.3,895.6 L1251.8,891.2 L1252.2,895.0 L1252.7,891.5 L1253.1,895.9 L1253.6,890.7 L1254.0,899.1 L1254.5,892.0 L1254.9,897.3 L1255.4,891.2 L1255.8,897.8 L1256.3,891.1 L1256.7,894.9 L1257.2,891.3 L1257.6,895.2 L1258.1,890.3 L1258.5,896.2 L1259.0,890.8 L1259.4,896.7 L1259.9,891.1 L1260.3,896.1 L1260.8,891.4 L1261.2,896.5 L1261.7,891.1 L1262.1,896.7 L1262.6,890.8 L1263.0,897.1 L1263.5,891.5 L1263.9,897.4 L1264.4,891.2 L1264.8,897.9 L1265.3,892.4 L1265.7,896.0 L1266.2,892.4 L1266.6,895.7 L1267.1,891.7 L1267.5,896.4 L1268.0,891.1 L1268.4,896.7 L1268.9,889.6 L1269.3,895.4 L1269.8,892.1 L1270.2,895.5 L1270.7,892.3 L1271.1,896.1 L1271.6,891.5 L1272.0,896.3 L1272.5,893.0 L1272.9,896.7 L1273.4,891.1 L1273.8,898.0 L1274.3,892.4 L1274.7,897.0 L1275.2,892.0 L1275.6,898.1 L1276.1,891.3 L1276.5,896.7 L1277.0,892.1 L1277.4,896.1 L1277.9,892.0 L1278.3,895.8 L1278.8,891.2 L1279.2,896.2 L1279.7,892.5 L1280.1,897.0 L1280.6,892.6 L1281.0,896.6 L1281.5,893.0 L1281.9,896.6 L1282.4,893.2 L1282.8,898.0 L1283.3,892.7 L1283.7,897.5 L1284.2,892.2 L1284.6,897.6 L1285.1,891.9 L1285.5,897.2 L1286.0,892.0 L1286.5,896.9 L1286.9,889.3 L1287.4,897.8 L1287.8,892.6 L1288.3,896.6 L1288.7,891.5 L1289.2,898.0 L1289.6,891.1 L1290.1,896.2 L1290.5,890.8 L1291.0,896.3 L1291.4,891.4 L1291.9,896.6 L1292.3,890.9 L1292.8,896.5 L1293.2,890.1 L1293.7,897.1 L1294.1,891.1 L1294.6,898.0 L1295.0,891.0 L1295.5,897.1 L1295.9,892.1 L1296.4,897.6 L1296.8,892.0 L1297.3,897.4 L1297.7,892.3 L1298.2,895.4 L1298.6,890.5 L1299.1,895.7 L1299.5,891.3 L1300.0,895.0 L1300.4,891.0 L1300.9,895.5 L1301.3,891.3 L1301.8,895.6 L1302.2,891.4 L1302.7,895.7 L1303.1,891.9 L1303.6,897.0 L1304.0,891.3 L1304.5,895.3 L1304.9,891.2 L1305.4,895.5 L1305.8,891.6 L1306.3,896.1 L1306.7,890.9 L1307.2,896.0 L1307.6,890.9 L1308.1,895.5 L1308.5,888.1 L1309.0,895.7 L1309.4,890.2 L1309.9,894.8 L1310.3,891.4 L1310.8,894.9 L1311.2,891.0 L1311.7,896.5 L1312.1,891.9 L1312.6,896.2 L1313.0,891.7 L1313.5,895.7 L1313.9,892.1 L1314.4,895.8 L1314.8,890.8 L1315.3,894.9 L1315.7,890.5 L1316.2,894.9 L1316.6,889.8 L1317.1,897.9 L1317.5,890.4 L1318.0,895.7 L1318.4,891.2 L1318.9,895.3 L1319.3,890.8 L1319.8,896.7 L1320.2,890.1 L1320.7,896.8 L1321.1,888.7 L1321.6,896.2 L1322.0,891.2 L1322.5,895.5 L1322.9,891.0 L1323.4,895.7 L1323.9,891.0 L1324.3,895.9 L1324.8,890.7 L1325.2,895.5 L1325.7,890.2 L1326.1,896.4 L1326.6,890.4 L1327.0,896.6 L1327.5,891.5 L1327.9,895.1 L1328.4,891.2 L1328.8,896.0 L1329.3,891.8 L1329.7,898.0 L1330.2,891.8 L1330.6,896.3 L1331.1,892.1 L1331.5,897.5 L1332.0,892.4 L1332.4,897.4 L1332.9,890.8 L1333.3,897.4 L1333.8,890.6 L1334.2,896.8 L1334.7,891.6 L1335.1,897.8 L1335.6,891.5 L1336.0,896.7 L1336.5,891.5 L1336.9,896.3 L1337.4,891.8 L1337.8,896.5 L1338.3,892.8 L1338.7,897.7 L1339.2,892.4 L1339.6,897.5 L1340.1,891.3 L1340.5,897.0 L1341.0,891.6 L1341.4,895.9 L1341.9,891.6 L1342.3,895.9 L1342.8,891.3 L1343.2,896.6 L1343.7,891.4 L1344.1,896.3 L1344.6,892.1 L1345.0,895.6 L1345.5,891.1 L1345.9,897.1 L1346.4,891.2 L1346.8,896.4 L1347.3,889.2 L1347.7,897.8 L1348.2,891.9 L1348.6,897.0 L1349.1,893.0 L1349.5,896.9 L1350.0,892.5 L1350.4,897.2 L1350.9,892.7 L1351.3,896.7 L1351.8,892.7 L1352.2,897.7 L1352.7,892.0 L1353.1,897.7 L1353.6,892.6 L1354.0,897.5 L1354.5,892.9 L1354.9,899.2 L1355.4,892.4 L1355.8,897.9 L1356.3,894.4 L1356.7,898.2 L1357.2,893.9 L1357.6,898.5 L1358.1,894.2 L1358.5,897.4 L1359.0,891.1 L1359.4,898.1 L1359.9,893.2 L1360.3,898.1 L1360.8,893.5 L1361.3,894.0 L1362.3,806.8 L1362.6,808.0 L1363.1,805.5 L1363.5,807.9 L1364.0,805.3 L1364.4,808.2 L1364.9,805.2 L1365.3,808.7 L1365.8,805.7 L1366.2,808.8 L1366.7,806.1 L1367.1,809.3 L1367.6,806.5 L1368.0,808.9 L1368.5,806.2 L1368.9,809.0 L1369.4,806.1 L1369.8,808.2 L1370.3,805.9 L1370.7,808.7 L1371.2,805.7 L1371.6,808.6 L1372.1,805.4 L1372.5,808.7 L1373.0,805.2 L1373.4,808.9 L1373.9,805.0 L1374.3,808.8 L1374.8,806.1 L1375.2,809.2 L1375.7,806.7 L1376.1,809.3 L1376.6,806.5 L1377.0,809.9 L1377.5,806.3 L1377.9,810.2 L1378.4,806.3 L1378.8,809.8 L1379.3,806.4 L1379.7,810.4 L1380.2,807.0 L1380.6,809.5 L1381.1,806.3 L1381.5,809.6 L1382.0,806.6 L1382.4,810.5 L1382.9,806.2 L1383.3,811.0 L1383.8,806.8 L1384.2,809.5 L1384.7,806.6 L1385.1,810.1 L1385.6,805.9 L1386.0,810.0 L1386.5,807.1 L1386.9,810.2 L1387.4,806.4 L1387.8,810.3 L1388.3,806.1 L1388.7,809.0 L1389.2,806.2 L1389.6,808.8 L1390.1,805.8 L1390.5,809.3 L1391.0,806.0 L1391.4,809.2 L1391.9,806.3 L1392.3,809.4 L1392.8,806.3 L1393.2,809.8 L1393.7,806.8 L1394.1,809.6 L1394.6,806.5 L1395.0,809.9 L1395.5,806.3 L1395.9,809.4 L1396.4,805.9 L1396.8,809.9 L1397.3,805.4 L1397.7,809.2 L1398.2,806.2 L1398.6,809.8 L1399.1,806.3 L1399.5,809.9 L1400.0,805.8 L1400.4,810.7 L1400.9,806.7 L1401.3,809.4 L1401.8,807.0 L1402.2,809.5 L1402.7,806.2 L1403.1,810.0 L1403.6,805.9 L1404.0,810.2 L1404.5,805.9" fill="none" stroke="#000" stroke-width="1.1" stroke-linejoin="round" stroke-linecap="round"/>
<path d="M172.3,1461.9 L172.8,1440.0 L173.0,1433.7 L173.5,1429.8 L173.9,1433.3 L174.4,1429.4 L174.8,1432.6 L175.3,1428.5 L175.7,1431.8 L176.2,1428.0 L176.6,1431.3 L177.1,1425.7 L177.5,1431.0 L178.0,1425.4 L178.4,1429.4 L178.9,1424.5 L179.3,1428.7 L179.8,1423.3 L180.2,1427.3 L180.7,1423.0 L181.1,1427.4 L181.6,1422.1 L182.0,1425.2 L182.5,1421.1 L182.9,1425.0 L183.4,1419.2 L183.8,1423.8 L184.3,1418.2 L184.7,1422.7 L185.2,1418.2 L185.6,1420.6 L186.1,1416.1 L186.5,1420.9 L187.0,1415.8 L187.4,1418.4 L187.9,1414.6 L188.3,1417.4 L188.8,1413.4 L189.2,1415.5 L189.7,1411.5 L190.1,1415.7 L190.6,1409.8 L191.0,1413.8 L191.5,1409.6 L191.9,1412.9 L192.4,1408.3 L192.8,1412.1 L193.3,1408.7 L193.7,1411.9 L194.2,1407.5 L194.6,1410.9 L195.1,1406.9 L195.5,1409.9 L196.0,1406.2 L196.4,1410.0 L196.9,1404.7 L197.3,1407.5 L197.8,1403.7 L198.2,1407.2 L198.7,1403.2 L199.1,1406.4 L199.6,1401.4 L200.0,1406.4 L200.5,1400.4 L200.9,1405.1 L201.4,1401.8 L201.8,1404.7 L202.3,1400.4 L202.7,1404.2 L203.2,1400.1 L203.6,1403.5 L204.1,1399.6 L204.5,1403.5 L205.0,1398.7 L205.4,1403.3 L205.9,1398.6 L206.3,1402.6 L206.8,1398.6 L207.2,1402.3 L207.7,1397.9 L208.1,1402.3 L208.6,1396.7 L209.0,1400.8 L209.5,1396.2 L209.9,1400.2 L210.4,1395.3 L210.8,1399.9 L211.3,1395.5 L211.7,1399.9 L212.2,1395.2 L212.6,1399.0 L213.1,1395.6 L213.5,1399.3 L214.0,1395.9 L214.4,1398.8 L214.9,1394.6 L215.3,1399.4 L215.8,1393.6 L216.2,1398.4 L216.7,1392.7 L217.1,1398.3 L217.6,1392.7 L218.0,1397.3 L218.5,1392.5 L218.9,1397.4 L219.4,1392.0 L219.8,1398.6 L220.3,1393.6 L220.7,1396.6 L221.2,1392.2 L221.6,1396.0 L222.1,1392.2 L222.5,1395.2 L223.0,1389.9 L223.4,1395.1 L223.9,1390.2 L224.3,1394.1 L224.8,1389.8 L225.2,1395.2 L225.7,1390.2 L226.1,1395.4 L226.6,1390.5 L227.0,1394.5 L227.5,1390.5 L228.0,1395.1 L228.4,1388.8 L228.9,1394.6 L229.3,1389.6 L229.8,1394.8 L230.2,1389.0 L230.7,1393.2 L231.1,1389.0 L231.6,1394.2 L232.0,1388.2 L232.5,1394.0 L232.9,1388.5 L233.4,1392.8 L233.8,1388.8 L234.3,1392.9 L234.7,1387.8 L235.2,1393.0 L235.6,1387.9 L236.1,1394.0 L236.5,1387.7 L237.0,1393.1 L237.4,1388.8 L237.9,1392.3 L238.3,1388.1 L238.8,1391.9 L239.2,1388.8 L239.7,1391.9 L240.1,1386.9 L240.6,1391.9 L241.0,1387.5 L241.5,1391.5 L241.9,1387.8 L242.4,1391.5 L242.8,1386.4 L243.3,1391.8 L243.7,1387.1 L244.2,1394.0 L244.6,1387.0 L245.1,1391.4 L245.5,1386.1 L246.0,1391.0 L246.4,1386.6 L246.9,1389.9 L247.3,1385.1 L247.8,1389.6 L248.2,1386.1 L248.7,1389.3 L249.1,1385.4 L249.6,1390.9 L250.0,1385.2 L250.5,1389.8 L250.9,1385.7 L251.4,1388.6 L251.8,1384.5 L252.3,1389.0 L252.7,1384.0 L253.2,1389.3 L253.6,1385.0 L254.1,1388.8 L254.5,1385.0 L255.0,1389.0 L255.4,1383.2 L255.9,1388.8 L256.3,1383.8 L256.8,1389.1 L257.2,1384.0 L257.7,1387.7 L258.1,1384.3 L258.6,1389.1 L259.0,1383.0 L259.5,1388.6 L259.9,1383.6 L260.4,1387.9 L260.8,1382.7 L261.3,1387.4 L261.7,1383.4 L262.2,1388.3 L262.6,1382.4 L263.1,1388.1 L263.5,1382.4 L264.0,1387.0 L264.4,1381.9 L264.9,1387.0 L265.3,1381.5 L265.8,1386.3 L266.2,1380.9 L266.7,1387.2 L267.1,1381.0 L267.6,1386.6 L268.0,1382.2 L268.5,1387.3 L268.9,1381.7 L269.4,1387.4 L269.8,1382.8 L270.3,1385.9 L270.7,1382.5 L271.2,1385.4 L271.6,1382.0 L272.1,1385.2 L272.5,1380.7 L273.0,1385.4 L273.4,1380.5 L273.9,1385.9 L274.3,1381.4 L274.8,1386.1 L275.2,1382.2 L275.7,1385.7 L276.1,1381.4 L276.6,1385.6 L277.0,1381.5 L277.5,1385.8 L277.9,1379.8 L278.4,1385.5 L278.8,1379.1 L279.3,1384.6 L279.7,1381.2 L280.2,1385.0 L280.6,1381.9 L281.1,1385.9 L281.6,1381.3 L282.0,1386.6 L282.5,1378.9 L282.9,1386.0 L283.4,1380.5 L283.8,1385.1 L284.3,1379.8 L284.7,1384.5 L285.2,1380.2 L285.6,1384.3 L286.1,1380.8 L286.5,1384.4 L287.0,1378.9 L287.4,1383.9 L287.9,1380.6 L288.3,1383.5 L288.8,1379.4 L289.2,1384.9 L289.7,1379.3 L290.1,1384.0 L290.6,1379.9 L291.0,1384.9 L291.5,1380.8 L291.9,1383.8 L292.4,1379.6 L292.8,1384.6 L293.3,1379.3 L293.7,1383.5 L294.2,1379.3 L294.6,1383.5 L295.1,1379.7 L295.5,1383.2 L296.0,1378.6 L296.4,1383.4 L296.9,1379.5 L297.3,1383.1 L297.8,1378.7 L298.2,1383.1 L298.7,1379.4 L299.1,1383.1 L299.6,1378.3 L300.0,1383.4 L300.5,1377.3 L300.9,1382.9 L301.4,1377.6 L301.8,1382.3 L302.3,1378.0 L302.7,1382.0 L303.2,1377.3 L303.6,1382.7 L304.1,1377.3 L304.5,1382.6 L305.0,1377.7 L305.4,1383.1 L305.9,1377.4 L306.3,1382.1 L306.8,1377.7 L307.2,1381.7 L307.7,1377.6 L308.1,1381.8 L308.6,1377.5 L309.0,1381.4 L309.5,1377.0 L309.9,1381.8 L310.4,1377.7 L310.8,1382.1 L311.3,1376.9 L311.7,1382.5 L312.2,1377.0 L312.6,1381.5 L313.1,1377.3 L313.5,1381.9 L314.0,1375.9 L314.4,1381.3 L314.9,1376.5 L315.3,1381.1 L315.8,1376.3 L316.2,1380.8 L316.7,1374.9 L317.1,1381.5 L317.6,1376.4 L318.0,1380.0 L318.5,1375.5 L318.9,1380.7 L319.4,1375.8 L319.8,1379.9 L320.3,1376.4 L320.7,1380.0 L321.2,1375.7 L321.6,1380.9 L322.1,1375.6 L322.5,1382.1 L323.0,1374.9 L323.4,1380.6 L323.9,1375.5 L324.3,1380.0 L324.8,1376.2 L325.2,1380.2 L325.7,1374.8 L326.1,1381.4 L326.6,1374.9 L327.0,1380.1 L327.5,1375.3 L327.9,1379.6 L328.4,1374.8 L328.8,1378.7 L329.3,1375.1 L329.7,1379.2 L330.2,1375.0 L330.6,1380.8 L331.1,1374.6 L331.5,1379.9 L332.0,1375.1 L332.4,1379.3 L332.9,1375.3 L333.3,1379.7 L333.8,1374.5 L334.2,1380.6 L334.7,1374.3 L335.1,1379.8 L335.6,1375.2 L336.2,1373.5 L336.9,1380.0 L337.6,1432.6 L338.0,1434.1 L338.5,1428.4 L338.9,1434.1 L339.4,1429.4 L339.8,1433.8 L340.3,1429.6 L340.7,1434.5 L341.2,1429.2 L341.6,1434.0 L342.1,1429.1 L342.5,1434.4 L343.0,1429.5 L343.4,1433.7 L343.9,1429.7 L344.3,1433.9 L344.8,1428.8 L345.2,1433.7 L345.7,1428.9 L346.1,1433.2 L346.6,1429.7 L347.0,1433.8 L347.5,1429.0 L347.9,1434.8 L348.4,1429.9 L348.8,1434.0 L349.3,1429.7 L349.7,1433.7 L350.2,1430.5 L350.6,1434.3 L351.1,1429.3 L351.5,1433.7 L352.0,1429.5 L352.4,1433.7 L352.9,1429.7 L353.3,1433.5 L353.8,1429.9 L354.2,1433.9 L354.7,1429.9 L355.1,1434.4 L355.6,1428.6 L356.0,1434.1 L356.5,1429.2 L356.9,1433.5 L357.4,1430.2 L357.8,1433.3 L358.3,1430.2 L358.7,1434.5 L359.2,1430.1 L359.6,1434.1 L360.1,1430.0 L360.5,1434.8 L361.0,1429.8 L361.4,1432.6 L409.0,1431.0 L409.3,1433.0 L409.8,1430.3 L410.2,1433.4 L410.7,1430.9 L411.1,1433.9 L411.6,1430.3 L412.0,1433.3 L412.5,1429.9 L412.9,1433.2 L413.4,1429.6 L413.8,1434.0 L414.3,1430.4 L414.7,1434.0 L415.2,1430.9 L415.6,1434.0 L416.1,1430.6 L416.5,1433.9 L417.0,1430.3 L417.4,1433.9 L417.9,1430.5 L418.4,1434.1 L418.8,1430.0 L419.3,1434.3 L419.7,1431.2 L420.2,1434.5 L420.6,1430.6 L421.1,1434.0 L421.5,1431.4 L422.0,1434.5 L422.4,1431.1 L422.9,1434.7 L423.3,1432.0 L423.8,1435.0 L424.2,1432.4 L424.7,1435.7 L425.1,1432.1 L425.6,1436.0 L426.0,1431.6 L426.5,1435.4 L427.0,1431.4 L427.4,1435.5 L427.9,1431.2 L428.3,1435.2 L428.8,1431.1 L429.2,1435.3 L429.7,1431.3 L430.1,1436.1 L430.6,1430.8 L431.0,1435.9 L431.5,1432.7 L431.9,1435.4 L432.4,1432.4 L432.8,1436.4 L433.3,1432.2 L433.7,1437.0 L434.2,1432.6 L434.6,1437.0 L435.1,1432.6 L435.5,1437.1 L436.0,1432.9 L436.5,1437.4 L436.9,1433.5 L437.4,1437.5 L437.8,1433.4 L438.3,1437.8 L438.7,1433.1 L439.2,1437.3 L439.6,1432.2 L440.1,1437.0 L440.5,1432.3 L441.0,1437.3 L441.4,1432.1 L441.9,1437.1 L442.3,1433.3 L442.8,1437.7 L443.2,1432.4 L443.7,1437.1 L444.1,1432.7 L444.6,1437.7 L445.1,1433.9 L445.5,1437.1 L446.0,1434.7 L446.4,1437.9 L446.9,1433.0 L447.3,1438.7 L447.8,1434.4 L448.2,1438.7 L448.7,1434.9 L449.1,1437.9 L449.6,1434.2 L450.0,1437.7 L450.5,1435.3 L450.9,1439.1 L451.4,1434.9 L451.8,1438.7 L452.3,1435.0 L452.7,1438.5 L453.2,1435.2 L453.6,1447.3 L454.0,1430.0 L454.6,1428.9 L455.1,1424.0 L455.5,1427.6 L456.0,1424.1 L456.4,1426.5 L456.9,1422.6 L457.3,1425.3 L457.8,1421.5 L458.2,1424.9 L458.7,1419.8 L459.1,1423.4 L459.6,1420.1 L460.0,1421.9 L460.5,1419.2 L460.9,1421.5 L461.4,1417.9 L461.8,1421.2 L462.3,1417.0 L462.7,1420.3 L463.2,1415.3 L463.6,1419.5 L464.1,1414.3 L464.5,1418.6 L465.0,1413.0 L465.4,1418.1 L465.9,1414.1 L466.3,1416.4 L466.8,1412.3 L467.2,1417.3 L467.7,1411.2 L468.1,1415.1 L468.6,1411.3 L469.0,1414.5 L469.5,1409.5 L469.9,1413.5 L470.4,1409.3 L470.8,1412.1 L471.3,1407.8 L471.7,1413.2 L472.2,1408.6 L472.6,1411.3 L473.1,1407.8 L473.5,1410.7 L474.0,1407.3 L474.4,1410.4 L474.9,1405.6 L475.3,1410.3 L475.8,1405.3 L476.2,1409.7 L476.7,1405.0 L477.1,1408.6 L477.6,1403.9 L478.0,1407.3 L478.5,1403.0 L478.9,1406.5 L479.4,1402.6 L479.8,1406.7 L480.3,1402.3 L480.7,1406.5 L481.2,1402.6 L481.7,1405.5 L482.1,1401.2 L482.6,1405.7 L483.0,1400.9 L483.5,1405.4 L483.9,1399.7 L484.4,1405.1 L484.8,1399.1 L485.3,1404.5 L485.7,1399.3 L486.2,1404.3 L486.6,1399.6 L487.1,1404.8 L487.5,1399.9 L488.0,1404.0 L488.4,1398.2 L488.9,1402.8 L489.3,1397.7 L489.8,1401.5 L490.2,1397.7 L490.7,1400.9 L491.1,1396.7 L491.6,1402.8 L492.0,1396.6 L492.5,1402.2 L492.9,1396.2 L493.4,1402.3 L493.8,1395.8 L494.3,1401.7 L494.7,1395.3 L495.2,1400.8 L495.6,1395.4 L496.1,1400.1 L496.5,1395.0 L497.0,1401.0 L497.4,1392.9 L497.9,1400.8 L498.3,1395.8 L498.8,1401.1 L499.2,1395.5 L499.7,1400.2 L500.1,1393.0 L500.6,1400.4 L501.0,1393.8 L501.5,1398.3 L501.9,1393.5 L502.4,1398.4 L502.8,1393.2 L503.3,1397.4 L503.7,1394.0 L504.2,1398.8 L504.6,1394.5 L505.1,1398.3 L505.5,1393.7 L506.0,1398.3 L506.4,1394.1 L506.9,1400.1 L507.3,1394.3 L507.8,1397.8 L508.2,1392.4 L508.7,1397.8 L509.2,1392.8 L509.6,1397.8 L510.1,1391.4 L510.5,1396.6 L511.0,1390.7 L511.4,1396.5 L511.9,1391.4 L512.3,1395.5 L512.8,1391.8 L513.2,1396.0 L513.7,1389.6 L514.1,1395.4 L514.6,1391.1 L515.0,1394.8 L515.5,1389.2 L515.9,1395.8 L516.4,1390.1 L516.8,1394.0 L517.3,1390.6 L517.7,1393.5 L518.2,1390.3 L518.6,1394.0 L519.1,1389.7 L519.5,1394.6 L520.0,1390.5 L520.4,1394.2 L520.9,1389.1 L521.3,1394.4 L521.8,1389.0 L522.2,1394.1 L522.7,1389.8 L523.1,1393.0 L523.6,1389.8 L524.0,1393.2 L524.5,1388.1 L524.9,1393.9 L525.4,1387.9 L525.8,1392.4 L526.3,1387.9 L526.7,1393.7 L527.2,1387.4 L527.6,1392.2 L528.1,1387.7 L528.5,1392.5 L529.0,1386.7 L529.4,1392.7 L529.9,1388.3 L530.3,1392.1 L530.8,1387.8 L531.2,1392.5 L531.7,1387.0 L532.1,1392.7 L532.6,1386.5 L533.0,1391.9 L533.5,1386.6 L533.9,1391.2 L534.4,1386.6 L534.8,1391.6 L535.3,1385.6 L535.8,1392.4 L536.2,1385.4 L536.7,1391.6 L537.1,1386.5 L537.6,1391.1 L538.0,1386.5 L538.5,1392.0 L538.9,1386.7 L539.4,1390.0 L539.8,1386.4 L540.3,1390.0 L540.7,1385.8 L541.2,1390.4 L541.6,1384.9 L542.1,1390.0 L542.5,1386.3 L543.0,1390.6 L543.4,1385.5 L543.9,1390.6 L544.3,1385.8 L544.8,1389.9 L545.2,1385.1 L545.7,1391.1 L546.1,1384.3 L546.6,1390.0 L547.0,1384.7 L547.5,1390.9 L547.9,1384.3 L548.4,1390.3 L548.8,1385.9 L549.3,1389.7 L549.7,1385.8 L550.2,1388.8 L550.6,1385.4 L551.1,1388.3 L551.5,1384.7 L552.0,1388.6 L552.4,1384.4 L552.9,1389.0 L553.3,1383.1 L553.8,1390.0 L554.2,1383.2 L554.7,1388.9 L555.1,1383.2 L555.6,1388.3 L556.0,1383.3 L556.5,1388.4 L556.9,1382.8 L557.4,1387.4 L557.8,1383.8 L558.3,1388.2 L558.7,1382.7 L559.2,1389.4 L559.6,1383.3 L560.1,1388.4 L560.5,1384.1 L561.0,1387.8 L561.4,1384.6 L561.9,1388.1 L562.4,1384.2 L562.8,1388.3 L563.3,1384.6 L563.7,1388.2 L564.2,1383.1 L564.6,1387.8 L565.1,1382.8 L565.5,1387.1 L566.0,1383.0 L566.4,1386.6 L566.9,1382.8 L567.3,1387.4 L567.8,1383.4 L568.2,1387.2 L568.7,1382.8 L569.1,1386.5 L569.6,1381.4 L570.0,1386.4 L570.5,1380.7 L570.9,1384.9 L571.4,1381.2 L571.8,1385.3 L572.3,1380.4 L572.7,1385.4 L573.2,1380.9 L573.6,1385.0 L574.1,1381.0 L574.5,1385.6 L575.0,1380.8 L575.4,1386.3 L575.9,1380.6 L576.3,1384.3 L576.8,1381.3 L577.2,1384.6 L577.7,1381.6 L578.1,1385.0 L578.6,1380.5 L579.0,1386.7 L579.5,1380.1 L579.9,1385.4 L580.4,1381.0 L580.8,1385.6 L581.3,1380.6 L581.7,1384.6 L582.2,1380.3 L582.6,1384.1 L583.1,1379.3 L583.5,1383.4 L584.0,1379.6 L584.4,1383.3 L584.9,1379.0 L585.3,1384.1 L585.8,1378.9 L586.2,1385.9 L586.7,1380.6 L587.1,1384.4 L587.6,1381.2 L588.0,1385.3 L588.5,1381.3 L588.9,1384.5 L589.4,1380.9 L589.9,1384.0 L590.3,1379.9 L590.8,1383.4 L591.2,1378.3 L591.7,1383.0 L592.1,1377.8 L592.6,1385.3 L593.0,1377.9 L593.5,1383.8 L593.9,1379.0 L594.4,1384.2 L594.8,1380.0 L595.3,1384.1 L595.7,1378.8 L596.2,1384.9 L596.6,1378.6 L597.1,1384.1 L597.5,1378.6 L598.0,1384.0 L598.4,1379.7 L598.9,1385.2 L599.3,1380.8 L599.8,1385.9 L600.2,1379.0 L600.7,1385.0 L601.1,1379.7 L601.6,1384.6 L602.0,1379.0 L602.5,1384.1 L602.9,1379.1 L603.4,1383.1 L603.8,1379.0 L604.3,1383.2 L604.7,1377.9 L605.2,1382.6 L605.6,1378.6 L606.1,1382.7 L606.5,1378.5 L607.0,1382.3 L607.4,1379.1 L607.9,1383.4 L608.3,1376.7 L608.8,1383.3 L609.2,1378.9 L609.7,1382.8 L610.1,1379.6 L610.6,1383.8 L611.0,1378.8 L611.5,1383.5 L611.9,1379.0 L612.4,1383.6 L612.8,1377.9 L613.3,1382.4 L613.7,1378.9 L614.2,1383.3 L614.6,1377.6 L615.1,1383.2 L615.5,1377.9 L616.0,1385.1 L616.4,1375.5 L617.0,1382.0 L617.6,1429.5 L618.0,1431.2 L618.5,1428.0 L618.9,1430.8 L619.4,1427.2 L619.8,1431.4 L620.3,1427.2 L620.7,1431.1 L621.2,1426.3 L621.6,1430.5 L622.1,1426.9 L622.5,1431.7 L623.0,1426.1 L623.4,1431.0 L623.9,1427.2 L624.3,1431.1 L624.8,1427.2 L625.2,1430.3 L625.7,1427.2 L626.1,1430.6 L626.6,1427.1 L627.0,1431.2 L627.5,1427.6 L627.9,1430.5 L628.4,1427.7 L628.8,1431.0 L629.3,1426.7 L629.7,1430.4 L630.2,1426.7 L630.6,1431.0 L631.1,1426.9 L631.5,1430.5 L632.0,1426.6 L632.4,1430.8 L632.9,1426.3 L633.3,1430.7 L633.8,1425.7 L634.2,1431.0 L634.7,1426.7 L635.1,1431.3 L635.6,1425.8 L636.0,1431.4 L636.5,1427.3 L636.9,1431.5 L637.4,1427.9 L637.8,1432.2 L638.3,1426.8 L638.7,1432.3 L639.2,1427.6 L639.6,1432.7 L640.1,1427.6 L640.5,1432.2 L641.0,1428.2 L641.4,1432.5 L641.9,1428.0 L642.3,1432.4 L642.8,1428.4 L643.2,1431.7 L643.7,1429.1 L644.1,1431.5 L644.6,1427.9 L645.0,1432.5 L645.5,1427.7 L645.9,1431.3 L646.4,1426.9 L646.8,1431.0 L647.3,1426.1 L647.7,1432.0 L648.2,1427.6 L648.6,1431.4 L649.1,1428.0 L649.5,1431.7 L650.0,1428.6 L650.4,1431.6 L650.9,1427.7 L651.3,1432.3 L651.8,1427.9 L652.2,1432.6 L652.7,1428.2 L653.1,1432.3 L653.6,1427.9 L654.0,1432.0 L654.5,1427.4 L654.9,1432.2 L655.4,1427.3 L655.8,1431.4 L656.3,1428.0 L656.7,1430.6 L657.2,1427.3 L657.6,1431.7 L658.1,1427.6 L658.5,1430.9 L659.0,1428.0 L659.4,1431.0 L659.9,1427.7 L660.3,1432.6 L660.8,1427.0 L661.2,1432.3 L661.7,1427.3 L662.1,1431.4 L662.6,1428.2 L663.0,1431.4 L663.5,1428.4 L663.9,1432.6 L664.4,1428.1 L664.8,1432.4 L665.3,1427.7 L665.7,1431.3 L666.2,1428.5 L666.6,1432.3 L667.1,1427.1 L667.5,1432.5 L668.0,1427.9 L668.4,1432.5 L668.9,1428.1 L669.3,1432.8 L669.8,1428.4 L670.2,1432.2 L670.7,1429.1 L671.1,1432.3 L671.6,1429.5 L672.0,1432.1 L672.5,1428.8 L672.9,1432.5 L673.4,1429.0 L673.8,1431.5 L674.3,1428.1 L674.8,1431.5 L675.2,1428.6 L675.7,1432.6 L676.1,1428.1 L676.6,1432.4 L677.0,1427.7 L677.5,1431.7 L677.9,1427.6 L678.4,1431.4 L678.8,1428.5 L679.3,1431.9 L679.7,1428.2 L680.2,1432.6 L680.6,1427.8 L681.1,1432.0 L681.5,1427.0 L682.0,1432.7 L682.4,1427.8 L682.9,1432.6 L683.3,1428.3 L683.8,1431.8 L684.2,1428.9 L684.7,1431.5 L685.1,1428.5 L685.6,1431.4 L686.0,1428.8 L686.5,1431.4 L686.9,1428.8 L687.4,1431.9 L687.8,1428.1 L688.3,1432.7 L688.7,1427.6 L689.2,1432.5 L689.6,1428.3 L690.1,1433.2 L690.5,1427.5 L691.0,1433.4 L691.4,1428.4 L691.9,1432.7 L692.3,1428.3 L692.8,1433.7 L693.2,1427.5 L693.7,1432.3 L694.1,1429.2 L694.6,1432.1 L695.0,1427.8 L695.5,1431.7 L695.9,1428.3 L696.4,1431.7 L696.8,1427.5 L697.3,1432.1 L697.7,1428.1 L698.2,1431.5 L698.6,1428.2 L699.1,1432.5 L699.5,1428.7 L700.0,1432.3 L700.4,1428.3 L700.9,1433.1 L701.3,1428.8 L701.8,1431.7 L702.2,1428.0 L702.7,1432.3 L703.1,1427.8 L703.6,1433.1 L704.0,1427.8 L704.5,1433.7 L704.9,1428.4 L705.4,1432.8 L705.8,1428.5 L706.3,1433.3 L706.7,1428.5 L707.2,1433.0 L707.6,1428.7 L708.1,1432.3 L708.5,1428.9 L709.0,1432.9 L709.4,1427.9 L709.9,1432.7 L710.3,1429.2 L710.8,1432.3 L711.2,1428.1 L711.7,1432.9 L712.1,1428.5 L712.6,1433.2 L713.0,1427.7 L713.5,1432.9 L713.9,1429.1 L714.4,1432.9 L714.8,1429.1 L715.3,1433.4 L715.7,1429.1 L716.2,1435.0 L716.6,1428.5 L717.1,1433.2 L717.5,1428.9 L718.0,1432.2 L718.4,1428.7 L718.9,1432.4 L719.3,1429.1 L719.8,1432.1 L720.2,1429.0 L720.7,1432.1 L721.1,1427.9 L721.6,1432.3 L722.0,1427.5 L722.5,1433.8 L722.9,1426.9 L723.4,1432.8 L723.8,1427.4 L724.3,1432.3 L724.7,1428.9 L725.2,1433.3 L725.6,1428.7 L726.1,1433.8 L726.5,1428.6 L727.0,1432.5 L727.4,1429.0 L727.9,1432.7 L728.3,1429.2 L728.8,1432.2 L729.2,1428.2 L729.7,1433.0 L730.1,1428.3 L730.6,1432.6" fill="none" stroke="#000" stroke-width="1.1" stroke-linejoin="round" stroke-linecap="round"/>
<path d="M846.7,1416.0 L847.2,1416.4 L847.6,1420.6 L848.1,1419.6 L848.5,1423.4 L849.0,1421.6 L849.4,1424.1 L849.9,1421.7 L850.3,1424.2 L850.8,1422.3 L851.2,1424.0 L851.7,1422.1 L852.1,1424.5 L852.6,1422.8 L853.0,1424.9 L853.5,1423.7 L853.9,1425.5 L854.4,1423.3 L854.8,1426.3 L855.3,1423.9 L855.7,1425.6 L856.2,1423.6 L856.6,1425.8 L857.1,1423.8 L857.5,1426.0 L858.0,1423.9 L858.4,1426.1 L858.9,1423.6 L859.3,1426.2 L859.8,1423.3 L860.2,1425.9 L860.7,1423.8 L861.1,1425.6 L861.6,1423.5 L862.0,1425.7 L862.5,1423.7 L862.9,1425.5 L863.4,1422.8 L863.8,1424.9 L864.3,1423.2 L864.7,1425.1 L865.2,1423.0 L865.6,1424.6 L866.1,1423.0 L866.5,1424.7 L867.0,1422.4 L867.4,1424.1 L867.9,1422.5 L868.3,1424.2 L868.8,1421.9 L869.2,1424.2 L869.7,1421.5 L870.1,1424.4 L870.6,1421.4 L871.0,1423.7 L871.5,1421.8 L871.9,1423.8 L872.4,1421.5 L872.8,1423.7 L873.3,1421.1 L873.8,1423.7 L874.2,1420.8 L874.7,1422.9 L875.1,1421.1 L875.6,1422.6 L876.0,1420.7 L876.5,1422.6 L876.9,1420.3 L877.4,1422.5 L877.8,1420.6 L878.3,1422.5 L878.7,1420.2 L879.2,1422.5 L879.6,1420.0 L880.1,1422.8 L880.5,1419.7 L881.0,1422.3 L881.4,1420.1 L881.9,1422.3 L882.3,1420.1 L882.8,1422.0 L883.2,1420.1 L883.7,1421.8 L884.1,1419.9 L884.6,1421.8 L885.0,1420.1 L885.5,1422.1 L885.9,1419.3 L886.4,1422.1 L886.8,1420.0 L887.3,1422.1 L887.7,1420.1 L888.2,1422.2 L888.6,1420.3 L889.1,1421.8 L889.5,1420.3 L890.0,1422.2 L890.4,1419.9 L890.9,1422.0 L891.3,1419.8 L891.8,1421.4 L892.2,1419.5 L892.7,1421.7 L893.1,1419.1 L893.6,1421.4 L894.0,1419.3 L894.5,1420.9 L894.9,1419.4 L895.4,1421.4 L895.8,1418.7 L896.3,1421.5 L896.7,1419.0 L897.2,1421.1 L897.6,1419.1 L898.1,1421.3 L898.5,1418.9 L899.0,1421.2 L899.4,1418.7 L899.9,1421.6 L900.4,1418.9 L900.8,1421.3 L901.3,1419.0 L901.7,1421.7 L902.2,1418.6 L902.6,1421.0 L903.1,1418.9 L903.5,1421.1 L904.0,1419.2 L904.4,1420.8 L904.9,1419.1 L905.3,1421.4 L905.8,1418.8 L906.2,1421.7 L906.7,1418.7 L907.1,1421.3 L907.6,1418.8 L908.0,1421.6 L908.5,1418.4 L908.9,1421.8 L909.4,1418.9 L909.8,1421.2 L910.3,1419.4 L910.7,1421.0 L911.2,1419.1 L911.6,1420.9 L912.1,1419.0 L912.5,1421.1 L913.0,1418.9 L913.4,1420.8 L913.9,1419.2 L914.3,1421.2 L914.8,1419.0 L915.2,1420.8 L915.7,1418.9 L916.1,1420.7 L916.6,1418.5 L917.0,1421.0 L917.5,1418.2 L917.9,1421.0 L918.4,1418.9 L918.8,1420.5 L919.3,1419.0 L919.7,1420.7 L920.2,1418.1 L920.6,1420.8 L921.1,1418.1 L921.5,1420.7 L922.0,1418.2 L922.4,1420.9 L922.9,1418.8 L923.3,1420.3 L923.8,1418.7 L924.2,1420.8 L924.7,1418.2 L925.1,1421.0 L925.6,1418.4 L926.0,1421.6 L926.5,1418.6 L927.0,1421.7 L927.4,1418.5 L927.9,1421.5 L928.3,1418.7 L928.8,1420.9 L929.2,1418.6 L929.7,1420.9 L930.1,1418.2 L930.6,1420.7 L931.0,1417.6 L931.5,1420.7 L931.9,1417.5 L932.4,1419.8 L932.8,1418.2 L933.3,1419.8 L933.7,1417.8 L934.2,1420.5 L934.6,1417.6 L935.1,1420.9 L935.5,1417.9 L936.0,1420.8 L936.4,1418.1 L936.9,1420.7 L937.3,1418.2 L937.8,1420.6 L938.2,1418.0 L938.7,1420.1 L939.1,1417.5 L939.6,1420.6 L940.0,1417.5 L940.5,1420.0 L940.9,1418.1 L941.4,1420.2 L941.8,1417.9 L942.3,1419.9 L942.7,1418.1 L943.2,1419.7 L943.6,1417.7 L944.1,1420.0 L944.5,1417.4 L945.0,1419.6 L945.4,1418.0 L945.9,1419.6 L946.3,1417.7 L946.8,1420.3 L947.2,1417.4 L947.7,1420.1 L948.1,1417.8 L948.6,1419.5 L949.0,1417.4 L949.5,1419.7 L949.9,1417.8 L950.4,1419.6 L950.8,1417.5 L951.3,1420.1 L951.7,1417.9 L952.2,1419.8 L952.6,1417.9 L953.1,1419.8 L953.5,1418.1 L954.0,1419.7 L954.5,1417.4 L954.9,1420.8 L955.4,1417.8 L955.8,1420.5 L956.3,1418.2 L956.7,1420.3 L957.2,1418.2 L957.6,1420.3 L958.1,1417.9 L958.5,1419.8 L959.0,1417.9 L959.4,1419.9 L959.9,1417.9 L960.3,1420.3 L960.8,1417.4 L961.2,1420.3 L961.7,1417.6 L962.1,1420.2 L962.6,1417.5 L963.0,1420.0 L963.5,1417.6 L963.9,1419.8 L964.4,1417.5 L964.8,1419.7 L965.3,1417.0 L965.7,1419.7 L966.2,1417.3 L966.6,1419.6 L967.1,1417.0 L967.5,1419.2 L968.0,1417.5 L968.4,1419.3 L968.9,1417.3 L969.3,1420.1 L969.8,1417.0 L970.2,1419.7 L970.7,1417.3 L971.1,1419.4 L971.6,1417.2 L972.0,1419.0 L972.5,1417.5 L972.9,1419.3 L973.4,1417.4 L973.8,1420.1 L974.3,1417.0 L974.7,1420.0 L975.2,1417.6 L975.6,1419.3 L976.1,1417.3 L976.5,1419.7 L977.0,1417.0 L977.4,1418.9 L977.9,1417.0 L978.3,1419.3 L978.8,1416.9 L979.2,1419.6 L979.7,1417.3 L980.1,1419.2 L980.6,1417.4 L981.1,1419.3 L981.5,1417.4 L982.0,1419.6 L982.4,1417.6 L982.9,1419.6 L983.3,1417.0 L983.8,1419.2 L984.2,1417.3 L984.7,1419.6 L985.1,1417.4 L985.6,1419.4 L986.0,1417.1 L986.5,1419.5 L986.9,1417.2 L987.4,1419.9 L987.8,1416.8 L988.3,1420.2 L988.7,1417.7 L989.2,1419.5 L989.6,1417.8 L990.1,1419.6 L990.5,1417.2 L991.0,1419.6 L991.4,1417.0 L991.9,1419.7 L992.3,1417.1 L992.8,1419.2 L993.2,1417.7 L993.7,1419.1 L994.1,1417.3 L994.6,1419.2 L995.0,1416.9 L995.5,1419.7 L995.9,1417.5 L996.4,1419.8 L996.8,1417.7 L997.3,1420.0 L997.7,1417.7 L998.2,1419.7 L998.6,1417.4 L999.1,1419.8 L999.5,1417.3 L1000.0,1419.9 L1000.4,1417.5 L1000.9,1419.6 L1001.3,1417.3 L1001.8,1419.7 L1002.2,1417.0 L1002.7,1418.8 L1003.1,1417.3 L1003.6,1419.3 L1004.0,1417.1 L1004.5,1419.8 L1004.9,1417.0 L1005.4,1420.1 L1005.8,1417.4 L1006.3,1419.5 L1006.7,1417.6 L1007.2,1419.8 L1007.7,1417.0 L1008.1,1419.3 L1008.6,1417.5 L1009.0,1419.3 L1009.5,1417.7 L1009.9,1419.6 L1010.4,1417.7 L1010.8,1419.4 L1011.3,1417.9 L1011.7,1419.4 L1012.2,1417.9 L1012.6,1419.7 L1013.1,1417.8 L1013.5,1419.4 L1014.0,1417.5 L1014.4,1419.5 L1014.9,1417.3 L1015.3,1420.0 L1015.8,1417.5 L1016.2,1419.4 L1016.7,1417.1 L1017.1,1419.9 L1017.6,1417.2 L1018.0,1419.9 L1018.5,1417.2 L1018.9,1420.0 L1019.4,1417.2 L1019.8,1420.2 L1020.3,1417.4 L1020.7,1419.4 L1021.2,1417.8 L1021.6,1420.0 L1022.1,1417.7 L1022.5,1420.0 L1023.0,1417.4 L1023.4,1420.0 L1023.9,1417.3 L1024.3,1419.2 L1024.8,1417.7 L1025.2,1419.7 L1025.7,1417.2 L1026.1,1420.3 L1026.6,1417.1 L1027.0,1420.0 L1027.5,1417.4 L1027.9,1419.7 L1028.4,1417.8 L1028.8,1420.2 L1029.3,1417.3 L1029.7,1420.5 L1030.2,1417.7 L1030.6,1420.2 L1031.1,1417.2 L1031.5,1420.4 L1032.0,1417.8 L1032.4,1420.3 L1032.9,1418.1 L1033.3,1420.3 L1033.8,1418.1 L1034.2,1420.1 L1034.7,1414.2 L1035.1,1416.1 L1035.5,1411.3 L1036.0,1412.7 L1036.5,1408.4 L1036.9,1411.4 L1037.4,1407.7 L1037.8,1410.7 L1038.2,1407.2 L1038.7,1409.1 L1039.2,1406.9 L1039.6,1409.3 L1040.0,1406.2 L1040.5,1409.5 L1041.0,1406.7 L1041.4,1409.3 L1041.9,1406.7 L1042.3,1409.5 L1042.8,1406.2 L1043.2,1409.4 L1043.7,1406.1 L1044.1,1409.1 L1044.5,1406.4 L1045.0,1409.3 L1045.5,1406.5 L1045.9,1409.3 L1046.4,1407.3 L1046.8,1409.5 L1047.2,1407.2 L1047.7,1409.9 L1048.2,1407.5 L1048.6,1409.7 L1049.0,1407.5 L1049.5,1409.4 L1050.0,1407.4 L1050.4,1409.1 L1050.9,1407.3 L1051.3,1409.6 L1051.8,1407.0 L1052.2,1410.3 L1052.7,1407.0 L1053.1,1410.3 L1053.5,1407.7 L1054.0,1410.3 L1054.5,1407.7 L1054.9,1410.8 L1055.4,1408.1 L1055.8,1410.7 L1056.2,1409.0 L1056.7,1411.3 L1057.2,1408.9 L1057.6,1411.6 L1058.0,1408.6 L1058.5,1412.2 L1059.0,1409.0 L1059.4,1412.2 L1059.9,1409.9 L1060.3,1412.5 L1060.8,1410.3 L1061.2,1413.1 L1061.7,1410.4 L1062.1,1413.2 L1062.5,1410.4 L1063.0,1413.5 L1063.5,1409.6 L1063.9,1413.5 L1064.4,1409.5 L1064.8,1413.0 L1065.2,1410.5 L1065.7,1413.3 L1066.2,1410.4 L1066.6,1413.2 L1067.0,1410.9 L1067.5,1413.6 L1068.0,1411.2 L1068.4,1413.8 L1068.9,1411.2 L1069.3,1414.3 L1069.8,1411.6 L1070.2,1413.8 L1070.7,1411.6 L1071.1,1414.9 L1071.6,1411.2 L1072.0,1414.5 L1072.5,1411.3 L1072.9,1414.5 L1073.4,1411.6 L1073.8,1414.2 L1074.2,1411.7 L1074.7,1414.9 L1075.2,1411.3 L1075.6,1415.0 L1076.1,1411.9 L1076.5,1414.5 L1077.0,1411.9 L1077.4,1414.4 L1077.9,1412.1 L1078.3,1414.4 L1078.8,1412.2 L1079.2,1415.0 L1079.7,1412.7 L1080.1,1415.2 L1080.6,1412.7 L1081.0,1415.2 L1081.5,1412.0 L1081.9,1415.3 L1082.4,1412.6 L1082.8,1414.7 L1083.2,1413.1 L1083.7,1415.3 L1084.2,1413.4 L1084.6,1415.5 L1085.1,1413.3 L1085.5,1415.8 L1086.0,1413.5 L1086.4,1415.5 L1086.9,1412.7 L1087.3,1416.3 L1087.8,1412.2 L1088.2,1415.2 L1088.7,1413.4 L1089.1,1415.5 L1089.6,1413.4 L1090.0,1415.3 L1090.5,1413.5 L1090.9,1415.3 L1091.4,1413.2 L1091.8,1415.3 L1092.2,1412.8 L1092.7,1415.4 L1093.2,1413.3 L1093.6,1415.3 L1094.1,1413.3 L1094.5,1416.7 L1095.0,1413.3 L1095.4,1416.7 L1095.9,1414.2 L1096.3,1417.2 L1096.8,1413.3 L1097.2,1416.6 L1097.7,1413.6 L1098.1,1415.9 L1098.6,1413.7 L1099.0,1416.0 L1099.5,1413.1 L1099.9,1416.1 L1100.4,1413.8 L1100.8,1415.8 L1101.2,1413.7 L1101.7,1416.4 L1102.2,1413.7 L1102.6,1417.4 L1103.1,1413.5 L1103.5,1416.9 L1104.0,1414.3 L1104.4,1417.1 L1104.9,1414.3 L1105.3,1417.0 L1105.8,1413.6 L1106.2,1416.2 L1106.7,1412.8 L1107.1,1416.7 L1107.6,1413.2 L1108.0,1416.3 L1108.5,1414.0 L1108.9,1416.9 L1109.4,1414.7 L1109.8,1416.6 L1110.2,1414.1 L1110.7,1416.8 L1111.2,1414.9 L1111.6,1417.0 L1112.1,1414.9 L1112.5,1417.7 L1113.0,1414.5 L1113.4,1417.9 L1113.9,1414.9 L1114.3,1417.6 L1114.8,1414.5 L1115.2,1417.3 L1115.7,1413.9 L1116.1,1417.4 L1116.6,1414.4 L1117.0,1417.1 L1117.5,1414.8 L1117.9,1417.0 L1118.4,1414.7 L1118.8,1417.9 L1119.2,1415.4 L1119.7,1417.8 L1120.2,1415.1 L1120.6,1418.0 L1121.1,1415.0 L1121.5,1417.3 L1122.0,1414.6 L1122.4,1417.3 L1122.9,1414.9 L1123.3,1417.5 L1123.8,1415.2 L1124.2,1417.6 L1124.7,1415.5 L1125.1,1417.5 L1125.6,1415.6 L1126.0,1418.0 L1126.5,1414.4 L1126.9,1417.9 L1127.3,1418.6 L1127.8,1418.1 L1128.2,1423.8 L1128.7,1421.6 L1129.1,1424.5 L1129.6,1421.9 L1130.0,1425.6 L1130.5,1422.4 L1130.9,1426.0 L1131.4,1424.1 L1131.8,1426.0 L1132.3,1424.6 L1132.7,1426.5 L1133.2,1424.9 L1133.6,1427.2 L1134.1,1425.2 L1134.5,1427.8 L1135.0,1425.7 L1135.4,1428.3 L1135.9,1425.8 L1136.3,1428.7 L1136.8,1425.8 L1137.2,1428.3 L1137.7,1426.3 L1138.1,1428.4 L1138.6,1425.9 L1139.0,1428.3 L1139.5,1426.5 L1139.9,1428.3 L1140.4,1425.8 L1140.8,1428.7 L1141.3,1426.0 L1141.7,1428.7 L1142.2,1427.0 L1142.6,1428.7 L1143.1,1427.1 L1143.5,1428.8 L1144.0,1427.1 L1144.4,1428.8 L1144.9,1426.6 L1145.3,1429.0 L1145.8,1426.5 L1146.2,1429.4 L1146.7,1426.4 L1147.1,1429.7 L1147.6,1427.3 L1148.0,1430.0 L1148.5,1427.3 L1148.9,1429.9 L1149.4,1427.4 L1149.8,1430.1 L1150.3,1427.8 L1150.7,1430.0 L1151.2,1427.6 L1151.6,1430.3 L1152.1,1427.8 L1152.5,1431.0 L1153.0,1427.7 L1153.4,1430.4 L1153.9,1428.0 L1154.4,1430.3 L1154.8,1428.1 L1155.3,1430.4 L1155.7,1428.3 L1156.2,1430.3 L1156.6,1428.6 L1157.1,1431.0 L1157.5,1428.1 L1158.0,1430.5 L1158.4,1428.4 L1158.9,1430.8 L1159.3,1428.4 L1159.8,1430.3 L1160.2,1428.7 L1160.7,1430.3 L1161.1,1428.7 L1161.6,1431.2 L1162.0,1428.3 L1162.5,1430.7 L1162.9,1428.3 L1163.4,1431.3 L1163.8,1428.0 L1164.3,1430.6 L1164.7,1428.1 L1165.2,1430.6 L1165.6,1428.0 L1166.1,1431.2 L1166.5,1427.8 L1167.0,1430.8 L1167.4,1428.9 L1167.9,1430.7 L1168.3,1429.0 L1168.8,1431.6 L1169.2,1429.2 L1169.7,1431.6 L1170.1,1429.2 L1170.6,1431.4 L1171.0,1429.6 L1171.5,1431.6 L1171.9,1429.0 L1172.4,1431.4 L1172.8,1428.9 L1173.3,1431.2 L1173.7,1428.6 L1174.2,1431.6 L1174.6,1428.5 L1175.1,1431.6 L1175.5,1428.5 L1176.0,1432.0 L1176.4,1428.6 L1176.9,1431.7 L1177.3,1428.8 L1177.8,1431.7 L1178.2,1428.8 L1178.7,1431.0 L1179.1,1429.4 L1179.6,1430.9 L1180.0,1428.6 L1180.5,1431.9 L1181.0,1428.7 L1181.4,1431.6 L1181.9,1428.7 L1182.3,1431.6 L1182.8,1429.4 L1183.2,1431.0 L1183.7,1429.3 L1184.1,1431.6 L1184.6,1429.4 L1185.0,1431.6 L1185.5,1429.0 L1185.9,1431.4 L1186.4,1429.3 L1186.8,1431.7 L1187.3,1428.6 L1187.7,1431.3 L1188.2,1429.4 L1188.6,1431.1 L1189.1,1429.0 L1189.5,1432.1 L1190.0,1428.9 L1190.4,1431.8 L1190.9,1429.6 L1191.3,1431.8 L1191.8,1429.3 L1192.2,1431.7 L1192.7,1429.6 L1193.1,1432.1 L1193.6,1429.4 L1194.0,1432.0 L1194.5,1428.9 L1194.9,1432.0 L1195.4,1428.8 L1195.8,1431.9 L1196.3,1429.6 L1196.7,1431.6 L1197.2,1429.7 L1197.6,1431.5 L1198.1,1429.8 L1198.5,1432.0 L1199.0,1429.6 L1199.4,1431.6 L1199.9,1430.0 L1200.3,1431.5 L1200.8,1429.4 L1201.2,1432.0 L1201.7,1429.3 L1202.1,1431.7 L1202.6,1429.1 L1203.0,1431.2 L1203.5,1429.2 L1203.9,1431.5 L1204.4,1429.6 L1204.8,1431.2 L1205.3,1429.6 L1205.7,1431.8 L1206.2,1430.1 L1206.6,1432.2 L1207.1,1429.5 L1207.6,1432.1 L1208.0,1429.2 L1208.5,1432.0 L1208.9,1429.5 L1209.4,1431.9 L1209.8,1429.4 L1210.3,1432.0 L1210.7,1429.3 L1211.2,1432.1 L1211.6,1429.0 L1212.1,1432.6 L1212.5,1429.0 L1213.0,1432.4 L1213.4,1429.2 L1213.9,1432.4 L1214.3,1429.3 L1214.8,1431.7 L1215.2,1430.0 L1215.7,1431.6 L1216.1,1429.5 L1216.6,1432.2 L1217.0,1429.7 L1217.5,1431.5 L1217.9,1429.8 L1218.4,1431.3 L1218.8,1429.7 L1219.3,1431.3 L1219.7,1429.3 L1220.2,1431.9 L1220.6,1429.2 L1221.1,1431.5 L1221.5,1429.5 L1222.0,1432.0 L1222.4,1429.7 L1222.9,1431.6 L1223.3,1429.9 L1223.8,1431.5 L1224.2,1429.5 L1224.7,1431.5 L1225.1,1429.4 L1225.6,1431.7 L1226.0,1429.7 L1226.5,1431.6 L1226.9,1429.1 L1227.4,1432.3 L1227.8,1429.5 L1228.3,1431.9 L1228.7,1429.8 L1229.2,1432.1 L1229.6,1429.2 L1230.1,1432.5 L1230.5,1429.4 L1231.0,1431.7 L1231.4,1430.2 L1231.9,1432.1 L1232.3,1430.2 L1232.8,1432.9 L1233.2,1429.6 L1233.7,1432.7 L1234.1,1430.4 L1234.6,1432.5 L1235.1,1429.9 L1235.5,1432.5 L1236.0,1429.9 L1236.4,1432.8 L1236.9,1430.0 L1237.3,1432.5 L1237.8,1430.0 L1238.2,1432.4 L1238.7,1429.7 L1239.1,1431.9 L1239.6,1429.9 L1240.0,1431.8 L1240.5,1430.1 L1240.9,1431.7 L1241.4,1430.1 L1241.8,1432.0 L1242.3,1429.8 L1242.7,1431.9 L1243.2,1430.2 L1243.6,1432.2 L1244.1,1430.0 L1244.5,1432.1 L1245.0,1430.1 L1245.4,1432.4 L1245.9,1429.9 L1246.3,1432.3 L1246.8,1429.7 L1247.2,1431.9 L1247.7,1430.1 L1248.1,1432.4 L1248.6,1430.0 L1249.0,1432.5 L1249.5,1430.0 L1249.9,1432.6 L1250.4,1429.9 L1250.8,1432.3 L1251.3,1430.1 L1251.7,1432.3 L1252.2,1429.6 L1252.6,1433.1 L1253.1,1430.1 L1253.5,1432.4 L1254.0,1430.3 L1254.4,1432.1 L1254.9,1430.4 L1255.3,1432.3 L1255.8,1430.0 L1256.2,1433.1 L1256.7,1429.8 L1257.1,1432.9 L1257.6,1430.3 L1258.0,1432.3 L1258.5,1430.1 L1258.9,1432.1 L1259.4,1430.2 L1259.8,1431.9 L1260.3,1430.1 L1260.7,1432.1 L1261.2,1429.9 L1261.7,1432.4 L1262.1,1429.5 L1262.6,1432.8 L1263.0,1429.7 L1263.5,1432.4 L1263.9,1429.3 L1264.4,1432.4 L1264.8,1430.1 L1265.3,1432.6 L1265.7,1429.8 L1266.2,1432.8 L1266.6,1430.3 L1267.1,1432.3 L1267.5,1429.8 L1268.0,1432.5 L1268.4,1429.9 L1268.9,1432.4 L1269.3,1429.8 L1269.8,1432.1 L1270.2,1429.6 L1270.7,1432.0 L1271.1,1430.1 L1271.6,1432.3 L1272.0,1430.1 L1272.5,1432.6 L1272.9,1429.6 L1273.4,1432.8 L1273.8,1430.2 L1274.3,1433.0 L1274.7,1430.1 L1275.2,1432.4 L1275.6,1429.6 L1276.1,1432.4 L1276.5,1429.6 L1277.0,1432.8 L1277.4,1429.8 L1277.9,1432.2 L1278.3,1429.7 L1278.8,1432.4 L1279.2,1430.4 L1279.7,1432.3 L1280.1,1430.2 L1280.6,1432.6 L1281.0,1430.0 L1281.5,1433.2 L1281.9,1430.0 L1282.4,1432.7 L1282.8,1430.0 L1283.3,1433.0 L1283.7,1430.6 L1284.2,1432.4 L1284.6,1430.4 L1285.1,1432.5 L1285.5,1429.9 L1286.0,1432.8 L1286.4,1430.1 L1286.9,1432.5 L1287.3,1430.2 L1287.8,1432.5 L1288.3,1430.1 L1288.7,1433.2 L1289.2,1430.3 L1289.6,1432.7 L1290.1,1430.6 L1290.5,1433.0 L1291.0,1431.0 L1291.4,1433.2 L1291.9,1430.7 L1292.3,1434.0 L1292.8,1430.7 L1293.2,1433.7 L1293.7,1430.2 L1294.1,1433.1 L1294.6,1430.7 L1295.0,1432.5 L1295.5,1430.2 L1295.9,1432.1 L1296.4,1430.5 L1296.8,1432.3 L1297.3,1429.9 L1297.7,1433.2 L1298.2,1430.0 L1298.6,1433.2 L1299.1,1430.5 L1299.5,1432.9 L1300.0,1430.0 L1300.4,1432.5 L1300.9,1430.3 L1301.3,1431.9 L1301.8,1430.2 L1302.2,1432.0 L1302.7,1429.5 L1303.1,1431.8 L1303.6,1429.9 L1304.0,1432.4 L1304.5,1430.7 L1304.9,1432.7 L1305.4,1430.7 L1305.8,1433.0 L1306.3,1430.0 L1306.7,1433.1 L1307.2,1430.1 L1307.6,1432.2 L1308.1,1429.9 L1308.5,1431.9 L1309.0,1429.8 L1309.4,1431.7 L1309.9,1430.1 L1310.3,1432.2 L1310.8,1429.5 L1311.2,1432.6 L1311.7,1429.7 L1312.1,1432.8 L1312.6,1430.2 L1313.0,1433.3 L1313.5,1430.4 L1313.9,1433.8 L1314.4,1430.5 L1314.8,1432.0 L1315.3,1428.8 L1315.7,1430.1 L1316.2,1426.6 L1316.6,1428.8 L1317.1,1424.8 L1317.5,1427.4 L1318.0,1423.9 L1318.4,1426.9 L1318.9,1423.4 L1319.3,1427.1 L1319.8,1424.0 L1320.2,1426.7 L1320.7,1423.9 L1321.1,1427.0 L1321.6,1423.6 L1322.0,1426.7 L1322.5,1424.0 L1322.9,1426.5 L1323.4,1423.2 L1323.8,1425.9 L1324.3,1423.2 L1324.7,1425.4 L1325.2,1422.6 L1325.6,1425.4 L1326.1,1423.2 L1326.6,1425.2 L1327.0,1423.2 L1327.5,1425.7 L1327.9,1422.8 L1328.4,1425.6 L1328.8,1422.6 L1329.3,1425.5 L1329.7,1423.3 L1330.2,1425.5 L1330.6,1423.4 L1331.1,1425.5 L1331.5,1422.9 L1332.0,1425.4 L1332.4,1422.4 L1332.9,1425.3 L1333.3,1422.3 L1333.8,1425.3 L1334.2,1421.6 L1334.7,1425.3 L1335.1,1422.4 L1335.6,1425.0 L1336.0,1421.5 L1336.5,1425.1 L1336.9,1422.2 L1337.4,1425.3 L1337.9,1422.2 L1338.3,1425.1 L1338.8,1422.6 L1339.2,1425.3 L1339.7,1422.4 L1340.1,1425.6 L1340.6,1422.8 L1341.0,1426.2 L1341.5,1423.0 L1341.9,1425.8 L1342.4,1423.3 L1342.8,1425.8 L1343.3,1422.7 L1343.7,1425.9 L1344.2,1422.9 L1344.6,1425.9 L1345.1,1423.7 L1345.5,1425.5 L1346.0,1423.4 L1346.4,1426.3 L1346.9,1423.0 L1347.3,1426.2 L1347.8,1423.0 L1348.2,1425.8 L1348.7,1423.6 L1349.2,1426.4 L1349.6,1423.9 L1350.1,1426.3 L1350.5,1424.4 L1351.0,1426.3 L1351.4,1424.5 L1351.9,1426.8 L1352.3,1423.9 L1352.8,1426.9 L1353.2,1424.5 L1353.7,1426.4 L1354.1,1424.5 L1354.6,1426.8 L1355.0,1424.4 L1355.5,1426.7 L1355.9,1424.4 L1356.4,1426.6 L1356.8,1424.1 L1357.3,1426.3 L1357.7,1424.6 L1358.2,1426.9 L1358.6,1424.5 L1359.1,1427.2 L1359.5,1424.7 L1360.0,1427.6 L1360.5,1424.4 L1360.9,1427.8 L1361.4,1424.6 L1361.8,1427.5 L1362.3,1424.5 L1362.7,1427.8 L1363.2,1425.2 L1363.6,1426.9 L1364.1,1424.9 L1364.5,1427.4 L1365.0,1424.7 L1365.4,1427.9 L1365.9,1425.2 L1366.3,1428.3 L1366.8,1425.7 L1367.2,1427.9 L1367.7,1425.9 L1368.1,1428.4 L1368.6,1424.9 L1369.0,1428.8 L1369.5,1426.0 L1369.9,1427.9 L1370.4,1425.6 L1370.9,1428.3 L1371.3,1425.0 L1371.8,1429.0 L1372.2,1425.7 L1372.7,1428.0 L1373.1,1425.5 L1373.6,1427.8 L1374.0,1426.0 L1374.5,1428.1 L1374.9,1425.8 L1375.4,1428.6 L1375.8,1426.0 L1376.3,1428.8 L1376.7,1425.9 L1377.2,1428.9 L1377.6,1425.9 L1378.1,1428.8 L1378.5,1425.4 L1379.0,1429.5 L1379.4,1426.1 L1379.9,1429.3 L1380.3,1426.7 L1380.8,1428.6 L1381.2,1426.6 L1381.7,1428.9 L1382.2,1426.6 L1382.6,1428.6 L1383.1,1426.2 L1383.5,1428.6 L1384.0,1426.6 L1384.4,1429.1 L1384.9,1426.7 L1385.3,1428.9 L1385.8,1426.2 L1386.2,1429.1 L1386.7,1426.3 L1387.1,1428.9 L1387.6,1426.2 L1388.0,1428.8 L1388.5,1426.4 L1388.9,1428.7 L1389.4,1426.3 L1389.8,1428.3 L1390.3,1425.8 L1390.7,1429.2 L1391.2,1425.8 L1391.6,1429.6 L1392.1,1426.4 L1392.5,1429.6 L1393.0,1426.5 L1393.5,1430.3 L1393.9,1427.3 L1394.4,1429.8 L1394.8,1427.3 L1395.3,1429.2 L1395.7,1427.1 L1396.2,1429.7 L1396.6,1426.5 L1397.1,1429.9 L1397.5,1426.4 L1398.0,1429.6 L1398.4,1426.6 L1398.9,1429.9 L1399.3,1427.3 L1399.8,1430.1 L1400.2,1426.8 L1400.7,1430.5 L1401.1,1427.4 L1401.6,1430.4 L1402.0,1427.0 L1402.5,1430.3 L1402.9,1427.4 L1403.4,1430.1 L1403.8,1428.0 L1404.3,1430.0" fill="none" stroke="#000" stroke-width="1.25" stroke-linejoin="round" stroke-linecap="round"/></svg></body></html>
